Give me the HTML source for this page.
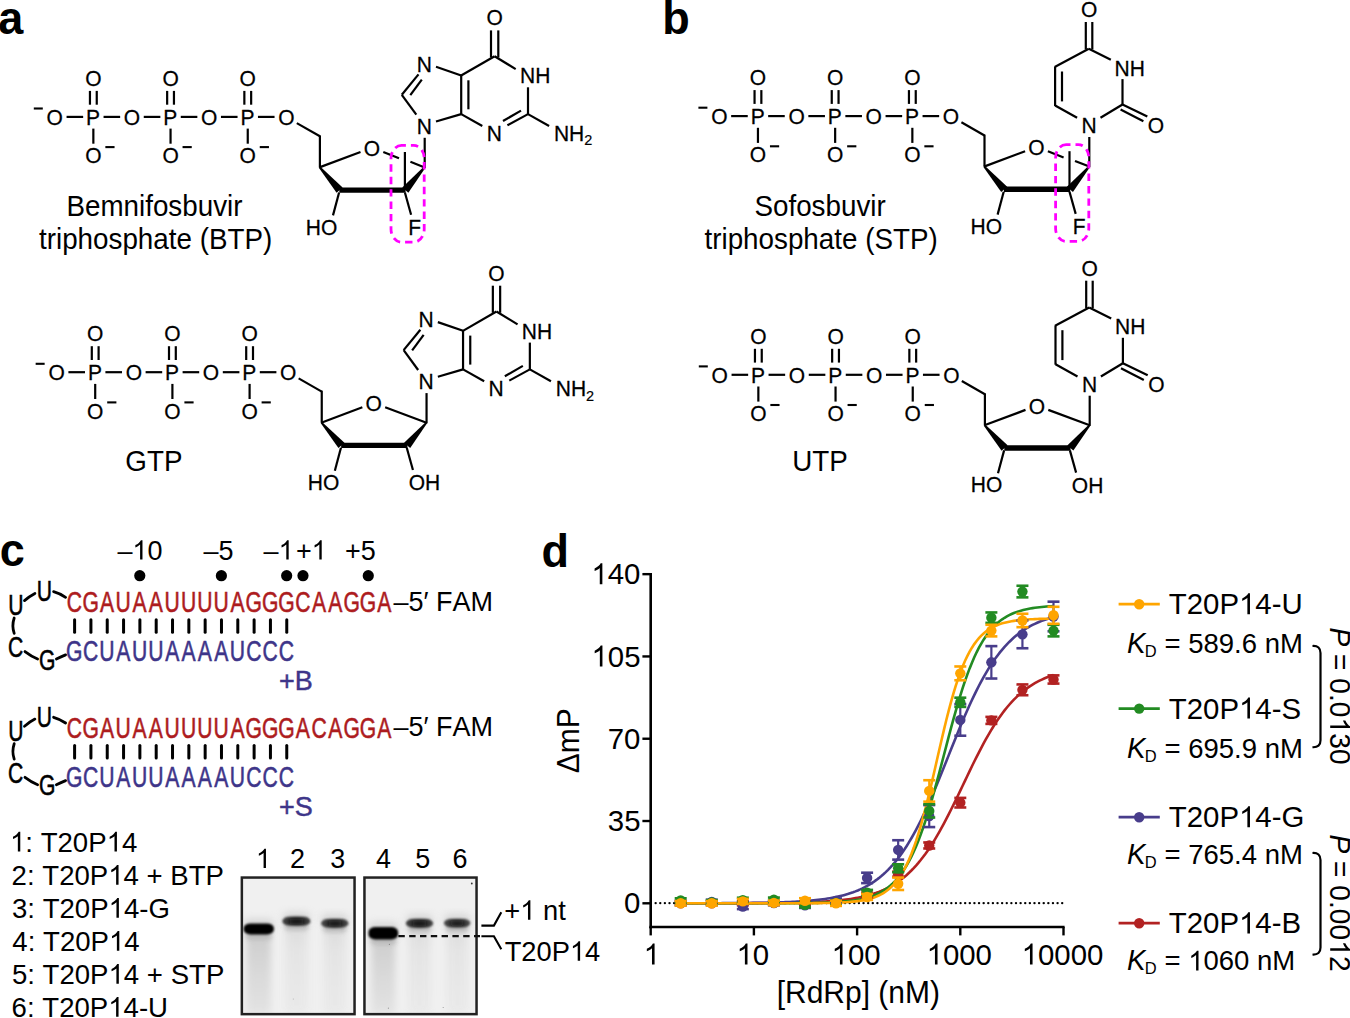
<!DOCTYPE html>
<html><head><meta charset="utf-8"><style>
html,body{margin:0;padding:0;background:#fff;width:1350px;height:1018px;overflow:hidden}
svg{display:block}
text{font-family:"Liberation Sans", sans-serif;font-kerning:none;white-space:pre}
</style></head><body>
<svg width="1350" height="1018" viewBox="0 0 1350 1018">
<rect width="1350" height="1018" fill="#fff"/>
<text transform="translate(-1.8,33.5) scale(1,1.04)" font-size="45" font-weight="bold">a</text>
<text transform="translate(662.2,33.5) scale(1,1.04)" font-size="45" font-weight="bold">b</text>
<text transform="translate(-0.3,566.3) scale(1,1.04)" font-size="45" font-weight="bold">c</text>
<text transform="translate(541.6,566.8) scale(1,1.04)" font-size="45" font-weight="bold">d</text>
<text transform="translate(46.59,124.63) scale(1,1.07)" font-size="21" stroke="#000" stroke-width="0.25">O</text>
<text transform="translate(86.04,124.63) scale(1,1.07)" font-size="21" stroke="#000" stroke-width="0.25">P</text>
<text transform="translate(123.79,124.63) scale(1,1.07)" font-size="21" stroke="#000" stroke-width="0.25">O</text>
<text transform="translate(163.24,124.63) scale(1,1.07)" font-size="21" stroke="#000" stroke-width="0.25">P</text>
<text transform="translate(200.99,124.63) scale(1,1.07)" font-size="21" stroke="#000" stroke-width="0.25">O</text>
<text transform="translate(240.44,124.63) scale(1,1.07)" font-size="21" stroke="#000" stroke-width="0.25">P</text>
<text transform="translate(278.19,124.63) scale(1,1.07)" font-size="21" stroke="#000" stroke-width="0.25">O</text>
<text transform="translate(85.19,86.03) scale(1,1.07)" font-size="21" stroke="#000" stroke-width="0.25">O</text>
<text transform="translate(85.19,163.23) scale(1,1.07)" font-size="21" stroke="#000" stroke-width="0.25">O</text>
<line x1="89.95" y1="90.9" x2="89.95" y2="104.7" stroke="#000" stroke-width="2.2" stroke-linecap="butt"/>
<line x1="96.75" y1="90.9" x2="96.75" y2="104.7" stroke="#000" stroke-width="2.2" stroke-linecap="butt"/>
<line x1="93.35" y1="128.6" x2="93.35" y2="143.7" stroke="#000" stroke-width="2.2" stroke-linecap="butt"/>
<line x1="105.35" y1="147.1" x2="114.55" y2="147.1" stroke="#000" stroke-width="2.1" stroke-linecap="butt"/>
<text transform="translate(162.39,86.03) scale(1,1.07)" font-size="21" stroke="#000" stroke-width="0.25">O</text>
<text transform="translate(162.39,163.23) scale(1,1.07)" font-size="21" stroke="#000" stroke-width="0.25">O</text>
<line x1="167.15" y1="90.9" x2="167.15" y2="104.7" stroke="#000" stroke-width="2.2" stroke-linecap="butt"/>
<line x1="173.95" y1="90.9" x2="173.95" y2="104.7" stroke="#000" stroke-width="2.2" stroke-linecap="butt"/>
<line x1="170.55" y1="128.6" x2="170.55" y2="143.7" stroke="#000" stroke-width="2.2" stroke-linecap="butt"/>
<line x1="182.55" y1="147.1" x2="191.75" y2="147.1" stroke="#000" stroke-width="2.1" stroke-linecap="butt"/>
<text transform="translate(239.59,86.03) scale(1,1.07)" font-size="21" stroke="#000" stroke-width="0.25">O</text>
<text transform="translate(239.59,163.23) scale(1,1.07)" font-size="21" stroke="#000" stroke-width="0.25">O</text>
<line x1="244.35" y1="90.9" x2="244.35" y2="104.7" stroke="#000" stroke-width="2.2" stroke-linecap="butt"/>
<line x1="251.15" y1="90.9" x2="251.15" y2="104.7" stroke="#000" stroke-width="2.2" stroke-linecap="butt"/>
<line x1="247.75" y1="128.6" x2="247.75" y2="143.7" stroke="#000" stroke-width="2.2" stroke-linecap="butt"/>
<line x1="259.75" y1="147.1" x2="268.95" y2="147.1" stroke="#000" stroke-width="2.1" stroke-linecap="butt"/>
<line x1="66.55" y1="116.9" x2="83.15" y2="116.9" stroke="#000" stroke-width="2.2" stroke-linecap="butt"/>
<line x1="103.55" y1="116.9" x2="120.15" y2="116.9" stroke="#000" stroke-width="2.2" stroke-linecap="butt"/>
<line x1="143.75" y1="116.9" x2="160.35" y2="116.9" stroke="#000" stroke-width="2.2" stroke-linecap="butt"/>
<line x1="180.75" y1="116.9" x2="197.35" y2="116.9" stroke="#000" stroke-width="2.2" stroke-linecap="butt"/>
<line x1="220.95" y1="116.9" x2="237.55" y2="116.9" stroke="#000" stroke-width="2.2" stroke-linecap="butt"/>
<line x1="257.95" y1="116.9" x2="274.55" y2="116.9" stroke="#000" stroke-width="2.2" stroke-linecap="butt"/>
<line x1="33.8" y1="108.5" x2="42.8" y2="108.5" stroke="#000" stroke-width="2.1" stroke-linecap="butt"/>
<text transform="translate(363.74,156.13) scale(1,1.07)" font-size="21" stroke="#000" stroke-width="0.25">O</text>
<line x1="296.8" y1="123.1" x2="319.9" y2="136.3" stroke="#000" stroke-width="2.2" stroke-linecap="butt"/>
<line x1="319.9" y1="135.4" x2="319.9" y2="167.4" stroke="#000" stroke-width="2.2" stroke-linecap="butt"/>
<line x1="319.4" y1="167.4" x2="360.5" y2="152" stroke="#000" stroke-width="2.2" stroke-linecap="butt"/>
<line x1="383.3" y1="152" x2="399" y2="158.2" stroke="#000" stroke-width="2.2" stroke-linecap="butt"/>
<line x1="410.4" y1="161.7" x2="424.7" y2="167.4" stroke="#000" stroke-width="2.2" stroke-linecap="butt"/>
<line x1="424.7" y1="137.8" x2="424.7" y2="168" stroke="#000" stroke-width="2.2" stroke-linecap="butt"/>
<polygon points="318.82,167.79 336.59,192.74 342.61,187.46 320.18,166.61" fill="#000"/>
<polygon points="424.01,166.62 402.25,187.51 408.35,192.69 425.39,167.78" fill="#000"/>
<polygon points="339.3,187.4 405.6,187.4 405.6,192.8 339.3,192.8" fill="#000"/>
<line x1="339.1" y1="192.5" x2="333" y2="215.4" stroke="#000" stroke-width="2.2" stroke-linecap="butt"/>
<text transform="translate(305.87,234.53) scale(1,1.07)" font-size="21" stroke="#000" stroke-width="0.25">HO</text>
<line x1="404.9" y1="192.5" x2="411.1" y2="214.7" stroke="#000" stroke-width="2.2" stroke-linecap="butt"/>
<text transform="translate(408.15,234.73) scale(1,1.07)" font-size="21" stroke="#000" stroke-width="0.25">F</text>
<line x1="404.9" y1="152" x2="404.9" y2="190" stroke="#000" stroke-width="2.2" stroke-linecap="butt"/>
<text transform="translate(486.44,25.33) scale(1,1.07)" font-size="21" stroke="#000" stroke-width="0.25">O</text>
<text transform="translate(520.01,83.23) scale(1,1.07)" font-size="21" stroke="#000" stroke-width="0.25">NH</text>
<text transform="translate(486.71,141.03) scale(1,1.07)" font-size="21" stroke="#000" stroke-width="0.25">N</text>
<text transform="translate(553.91,141.03) scale(1,1.07)" font-size="21" stroke="#000" stroke-width="0.25">NH</text>
<text transform="translate(584.24,145.23) scale(1,1.07)" font-size="14.5" stroke="#000" stroke-width="0.2">2</text>
<text transform="translate(416.71,71.53) scale(1,1.07)" font-size="21" stroke="#000" stroke-width="0.25">N</text>
<text transform="translate(416.71,133.73) scale(1,1.07)" font-size="21" stroke="#000" stroke-width="0.25">N</text>
<line x1="491" y1="30.4" x2="491" y2="57.5" stroke="#000" stroke-width="2.2" stroke-linecap="butt"/>
<line x1="498.3" y1="30.4" x2="498.3" y2="57.5" stroke="#000" stroke-width="2.2" stroke-linecap="butt"/>
<line x1="494.6" y1="56.2" x2="515.7" y2="69.1" stroke="#000" stroke-width="2.2" stroke-linecap="butt"/>
<line x1="528" y1="87.3" x2="528" y2="114.1" stroke="#000" stroke-width="2.2" stroke-linecap="butt"/>
<line x1="528" y1="114.1" x2="507.4" y2="125.3" stroke="#000" stroke-width="2.2" stroke-linecap="butt"/>
<line x1="521" y1="110.6" x2="503" y2="121" stroke="#000" stroke-width="2.2" stroke-linecap="butt"/>
<line x1="482.3" y1="126" x2="461.2" y2="114.1" stroke="#000" stroke-width="2.2" stroke-linecap="butt"/>
<line x1="461.2" y1="114.1" x2="461.2" y2="75.5" stroke="#000" stroke-width="2.2" stroke-linecap="butt"/>
<line x1="468.4" y1="80.3" x2="468.4" y2="109.3" stroke="#000" stroke-width="2.2" stroke-linecap="butt"/>
<line x1="460.7" y1="75.8" x2="494.6" y2="56.2" stroke="#000" stroke-width="2.2" stroke-linecap="butt"/>
<line x1="461.2" y1="75.5" x2="436" y2="66.8" stroke="#000" stroke-width="2.2" stroke-linecap="butt"/>
<line x1="418.5" y1="74.4" x2="401.8" y2="94.8" stroke="#000" stroke-width="2.2" stroke-linecap="butt"/>
<line x1="421.8" y1="79.6" x2="410.3" y2="95.1" stroke="#000" stroke-width="2.2" stroke-linecap="butt"/>
<line x1="401.8" y1="94.8" x2="416.3" y2="114.7" stroke="#000" stroke-width="2.2" stroke-linecap="butt"/>
<line x1="436" y1="121.5" x2="461.2" y2="114.1" stroke="#000" stroke-width="2.2" stroke-linecap="butt"/>
<line x1="528" y1="114.1" x2="549.1" y2="126" stroke="#000" stroke-width="2.2" stroke-linecap="butt"/>
<rect x="391" y="145.4" width="33.2" height="96.8" rx="10.5" ry="13" fill="none" stroke="#ff00ff" stroke-width="2.8" stroke-dasharray="7.4 5" stroke-dashoffset="3"/>
<text transform="translate(48.44,379.93) scale(1,1.07)" font-size="21" stroke="#000" stroke-width="0.25">O</text>
<text transform="translate(87.89,379.93) scale(1,1.07)" font-size="21" stroke="#000" stroke-width="0.25">P</text>
<text transform="translate(125.64,379.93) scale(1,1.07)" font-size="21" stroke="#000" stroke-width="0.25">O</text>
<text transform="translate(165.09,379.93) scale(1,1.07)" font-size="21" stroke="#000" stroke-width="0.25">P</text>
<text transform="translate(202.84,379.93) scale(1,1.07)" font-size="21" stroke="#000" stroke-width="0.25">O</text>
<text transform="translate(242.29,379.93) scale(1,1.07)" font-size="21" stroke="#000" stroke-width="0.25">P</text>
<text transform="translate(280.04,379.93) scale(1,1.07)" font-size="21" stroke="#000" stroke-width="0.25">O</text>
<text transform="translate(87.04,341.33) scale(1,1.07)" font-size="21" stroke="#000" stroke-width="0.25">O</text>
<text transform="translate(87.04,418.53) scale(1,1.07)" font-size="21" stroke="#000" stroke-width="0.25">O</text>
<line x1="91.8" y1="346.2" x2="91.8" y2="360" stroke="#000" stroke-width="2.2" stroke-linecap="butt"/>
<line x1="98.6" y1="346.2" x2="98.6" y2="360" stroke="#000" stroke-width="2.2" stroke-linecap="butt"/>
<line x1="95.2" y1="383.9" x2="95.2" y2="399" stroke="#000" stroke-width="2.2" stroke-linecap="butt"/>
<line x1="107.2" y1="402.4" x2="116.4" y2="402.4" stroke="#000" stroke-width="2.1" stroke-linecap="butt"/>
<text transform="translate(164.24,341.33) scale(1,1.07)" font-size="21" stroke="#000" stroke-width="0.25">O</text>
<text transform="translate(164.24,418.53) scale(1,1.07)" font-size="21" stroke="#000" stroke-width="0.25">O</text>
<line x1="169" y1="346.2" x2="169" y2="360" stroke="#000" stroke-width="2.2" stroke-linecap="butt"/>
<line x1="175.8" y1="346.2" x2="175.8" y2="360" stroke="#000" stroke-width="2.2" stroke-linecap="butt"/>
<line x1="172.4" y1="383.9" x2="172.4" y2="399" stroke="#000" stroke-width="2.2" stroke-linecap="butt"/>
<line x1="184.4" y1="402.4" x2="193.6" y2="402.4" stroke="#000" stroke-width="2.1" stroke-linecap="butt"/>
<text transform="translate(241.44,341.33) scale(1,1.07)" font-size="21" stroke="#000" stroke-width="0.25">O</text>
<text transform="translate(241.44,418.53) scale(1,1.07)" font-size="21" stroke="#000" stroke-width="0.25">O</text>
<line x1="246.2" y1="346.2" x2="246.2" y2="360" stroke="#000" stroke-width="2.2" stroke-linecap="butt"/>
<line x1="253" y1="346.2" x2="253" y2="360" stroke="#000" stroke-width="2.2" stroke-linecap="butt"/>
<line x1="249.6" y1="383.9" x2="249.6" y2="399" stroke="#000" stroke-width="2.2" stroke-linecap="butt"/>
<line x1="261.6" y1="402.4" x2="270.8" y2="402.4" stroke="#000" stroke-width="2.1" stroke-linecap="butt"/>
<line x1="68.4" y1="372.2" x2="85" y2="372.2" stroke="#000" stroke-width="2.2" stroke-linecap="butt"/>
<line x1="105.4" y1="372.2" x2="122" y2="372.2" stroke="#000" stroke-width="2.2" stroke-linecap="butt"/>
<line x1="145.6" y1="372.2" x2="162.2" y2="372.2" stroke="#000" stroke-width="2.2" stroke-linecap="butt"/>
<line x1="182.6" y1="372.2" x2="199.2" y2="372.2" stroke="#000" stroke-width="2.2" stroke-linecap="butt"/>
<line x1="222.8" y1="372.2" x2="239.4" y2="372.2" stroke="#000" stroke-width="2.2" stroke-linecap="butt"/>
<line x1="259.8" y1="372.2" x2="276.4" y2="372.2" stroke="#000" stroke-width="2.2" stroke-linecap="butt"/>
<line x1="35.65" y1="363.8" x2="44.65" y2="363.8" stroke="#000" stroke-width="2.1" stroke-linecap="butt"/>
<text transform="translate(365.59,411.43) scale(1,1.07)" font-size="21" stroke="#000" stroke-width="0.25">O</text>
<line x1="298.65" y1="378.4" x2="321.75" y2="391.6" stroke="#000" stroke-width="2.2" stroke-linecap="butt"/>
<line x1="321.75" y1="390.7" x2="321.75" y2="422.7" stroke="#000" stroke-width="2.2" stroke-linecap="butt"/>
<line x1="321.25" y1="422.7" x2="362.35" y2="407.3" stroke="#000" stroke-width="2.2" stroke-linecap="butt"/>
<line x1="385.15" y1="407.3" x2="426.55" y2="422.7" stroke="#000" stroke-width="2.2" stroke-linecap="butt"/>
<line x1="426.55" y1="393.1" x2="426.55" y2="423.3" stroke="#000" stroke-width="2.2" stroke-linecap="butt"/>
<polygon points="320.67,423.09 338.44,448.04 344.46,442.76 322.03,421.91" fill="#000"/>
<polygon points="425.86,421.92 404.1,442.81 410.2,447.99 427.24,423.08" fill="#000"/>
<polygon points="341.15,442.7 407.45,442.7 407.45,448.1 341.15,448.1" fill="#000"/>
<line x1="340.95" y1="447.8" x2="334.85" y2="470.7" stroke="#000" stroke-width="2.2" stroke-linecap="butt"/>
<text transform="translate(307.72,489.83) scale(1,1.07)" font-size="21" stroke="#000" stroke-width="0.25">HO</text>
<line x1="406.75" y1="447.8" x2="412.95" y2="470" stroke="#000" stroke-width="2.2" stroke-linecap="butt"/>
<text transform="translate(408.69,490.03) scale(1,1.07)" font-size="21" stroke="#000" stroke-width="0.25">OH</text>
<text transform="translate(488.29,280.63) scale(1,1.07)" font-size="21" stroke="#000" stroke-width="0.25">O</text>
<text transform="translate(521.86,338.53) scale(1,1.07)" font-size="21" stroke="#000" stroke-width="0.25">NH</text>
<text transform="translate(488.56,396.33) scale(1,1.07)" font-size="21" stroke="#000" stroke-width="0.25">N</text>
<text transform="translate(555.76,396.33) scale(1,1.07)" font-size="21" stroke="#000" stroke-width="0.25">NH</text>
<text transform="translate(586.09,400.53) scale(1,1.07)" font-size="14.5" stroke="#000" stroke-width="0.2">2</text>
<text transform="translate(418.56,326.83) scale(1,1.07)" font-size="21" stroke="#000" stroke-width="0.25">N</text>
<text transform="translate(418.56,389.03) scale(1,1.07)" font-size="21" stroke="#000" stroke-width="0.25">N</text>
<line x1="492.85" y1="285.7" x2="492.85" y2="312.8" stroke="#000" stroke-width="2.2" stroke-linecap="butt"/>
<line x1="500.15" y1="285.7" x2="500.15" y2="312.8" stroke="#000" stroke-width="2.2" stroke-linecap="butt"/>
<line x1="496.45" y1="311.5" x2="517.55" y2="324.4" stroke="#000" stroke-width="2.2" stroke-linecap="butt"/>
<line x1="529.85" y1="342.6" x2="529.85" y2="369.4" stroke="#000" stroke-width="2.2" stroke-linecap="butt"/>
<line x1="529.85" y1="369.4" x2="509.25" y2="380.6" stroke="#000" stroke-width="2.2" stroke-linecap="butt"/>
<line x1="522.85" y1="365.9" x2="504.85" y2="376.3" stroke="#000" stroke-width="2.2" stroke-linecap="butt"/>
<line x1="484.15" y1="381.3" x2="463.05" y2="369.4" stroke="#000" stroke-width="2.2" stroke-linecap="butt"/>
<line x1="463.05" y1="369.4" x2="463.05" y2="330.8" stroke="#000" stroke-width="2.2" stroke-linecap="butt"/>
<line x1="470.25" y1="335.6" x2="470.25" y2="364.6" stroke="#000" stroke-width="2.2" stroke-linecap="butt"/>
<line x1="462.55" y1="331.1" x2="496.45" y2="311.5" stroke="#000" stroke-width="2.2" stroke-linecap="butt"/>
<line x1="463.05" y1="330.8" x2="437.85" y2="322.1" stroke="#000" stroke-width="2.2" stroke-linecap="butt"/>
<line x1="420.35" y1="329.7" x2="403.65" y2="350.1" stroke="#000" stroke-width="2.2" stroke-linecap="butt"/>
<line x1="423.65" y1="334.9" x2="412.15" y2="350.4" stroke="#000" stroke-width="2.2" stroke-linecap="butt"/>
<line x1="403.65" y1="350.1" x2="418.15" y2="370" stroke="#000" stroke-width="2.2" stroke-linecap="butt"/>
<line x1="437.85" y1="376.8" x2="463.05" y2="369.4" stroke="#000" stroke-width="2.2" stroke-linecap="butt"/>
<line x1="529.85" y1="369.4" x2="550.95" y2="381.3" stroke="#000" stroke-width="2.2" stroke-linecap="butt"/>
<text transform="translate(711.19,123.83) scale(1,1.07)" font-size="21" stroke="#000" stroke-width="0.25">O</text>
<text transform="translate(750.64,123.83) scale(1,1.07)" font-size="21" stroke="#000" stroke-width="0.25">P</text>
<text transform="translate(788.39,123.83) scale(1,1.07)" font-size="21" stroke="#000" stroke-width="0.25">O</text>
<text transform="translate(827.84,123.83) scale(1,1.07)" font-size="21" stroke="#000" stroke-width="0.25">P</text>
<text transform="translate(865.59,123.83) scale(1,1.07)" font-size="21" stroke="#000" stroke-width="0.25">O</text>
<text transform="translate(905.04,123.83) scale(1,1.07)" font-size="21" stroke="#000" stroke-width="0.25">P</text>
<text transform="translate(942.79,123.83) scale(1,1.07)" font-size="21" stroke="#000" stroke-width="0.25">O</text>
<text transform="translate(749.79,85.23) scale(1,1.07)" font-size="21" stroke="#000" stroke-width="0.25">O</text>
<text transform="translate(749.79,162.43) scale(1,1.07)" font-size="21" stroke="#000" stroke-width="0.25">O</text>
<line x1="754.55" y1="90.1" x2="754.55" y2="103.9" stroke="#000" stroke-width="2.2" stroke-linecap="butt"/>
<line x1="761.35" y1="90.1" x2="761.35" y2="103.9" stroke="#000" stroke-width="2.2" stroke-linecap="butt"/>
<line x1="757.95" y1="127.8" x2="757.95" y2="142.9" stroke="#000" stroke-width="2.2" stroke-linecap="butt"/>
<line x1="769.95" y1="146.3" x2="779.15" y2="146.3" stroke="#000" stroke-width="2.1" stroke-linecap="butt"/>
<text transform="translate(826.99,85.23) scale(1,1.07)" font-size="21" stroke="#000" stroke-width="0.25">O</text>
<text transform="translate(826.99,162.43) scale(1,1.07)" font-size="21" stroke="#000" stroke-width="0.25">O</text>
<line x1="831.75" y1="90.1" x2="831.75" y2="103.9" stroke="#000" stroke-width="2.2" stroke-linecap="butt"/>
<line x1="838.55" y1="90.1" x2="838.55" y2="103.9" stroke="#000" stroke-width="2.2" stroke-linecap="butt"/>
<line x1="835.15" y1="127.8" x2="835.15" y2="142.9" stroke="#000" stroke-width="2.2" stroke-linecap="butt"/>
<line x1="847.15" y1="146.3" x2="856.35" y2="146.3" stroke="#000" stroke-width="2.1" stroke-linecap="butt"/>
<text transform="translate(904.19,85.23) scale(1,1.07)" font-size="21" stroke="#000" stroke-width="0.25">O</text>
<text transform="translate(904.19,162.43) scale(1,1.07)" font-size="21" stroke="#000" stroke-width="0.25">O</text>
<line x1="908.95" y1="90.1" x2="908.95" y2="103.9" stroke="#000" stroke-width="2.2" stroke-linecap="butt"/>
<line x1="915.75" y1="90.1" x2="915.75" y2="103.9" stroke="#000" stroke-width="2.2" stroke-linecap="butt"/>
<line x1="912.35" y1="127.8" x2="912.35" y2="142.9" stroke="#000" stroke-width="2.2" stroke-linecap="butt"/>
<line x1="924.35" y1="146.3" x2="933.55" y2="146.3" stroke="#000" stroke-width="2.1" stroke-linecap="butt"/>
<line x1="731.15" y1="116.1" x2="747.75" y2="116.1" stroke="#000" stroke-width="2.2" stroke-linecap="butt"/>
<line x1="768.15" y1="116.1" x2="784.75" y2="116.1" stroke="#000" stroke-width="2.2" stroke-linecap="butt"/>
<line x1="808.35" y1="116.1" x2="824.95" y2="116.1" stroke="#000" stroke-width="2.2" stroke-linecap="butt"/>
<line x1="845.35" y1="116.1" x2="861.95" y2="116.1" stroke="#000" stroke-width="2.2" stroke-linecap="butt"/>
<line x1="885.55" y1="116.1" x2="902.15" y2="116.1" stroke="#000" stroke-width="2.2" stroke-linecap="butt"/>
<line x1="922.55" y1="116.1" x2="939.15" y2="116.1" stroke="#000" stroke-width="2.2" stroke-linecap="butt"/>
<line x1="698.4" y1="107.7" x2="707.4" y2="107.7" stroke="#000" stroke-width="2.1" stroke-linecap="butt"/>
<text transform="translate(1028.34,155.33) scale(1,1.07)" font-size="21" stroke="#000" stroke-width="0.25">O</text>
<line x1="961.4" y1="122.3" x2="984.5" y2="135.5" stroke="#000" stroke-width="2.2" stroke-linecap="butt"/>
<line x1="984.5" y1="134.6" x2="984.5" y2="166.6" stroke="#000" stroke-width="2.2" stroke-linecap="butt"/>
<line x1="984" y1="166.6" x2="1025.1" y2="151.2" stroke="#000" stroke-width="2.2" stroke-linecap="butt"/>
<line x1="1047.9" y1="151.2" x2="1063.6" y2="157.4" stroke="#000" stroke-width="2.2" stroke-linecap="butt"/>
<line x1="1075" y1="160.9" x2="1089.3" y2="166.6" stroke="#000" stroke-width="2.2" stroke-linecap="butt"/>
<line x1="1089.3" y1="137" x2="1089.3" y2="167.2" stroke="#000" stroke-width="2.2" stroke-linecap="butt"/>
<polygon points="983.42,166.99 1001.19,191.94 1007.21,186.66 984.78,165.81" fill="#000"/>
<polygon points="1088.61,165.82 1066.85,186.71 1072.95,191.89 1089.99,166.98" fill="#000"/>
<polygon points="1003.9,186.6 1070.2,186.6 1070.2,192 1003.9,192" fill="#000"/>
<line x1="1003.7" y1="191.7" x2="997.6" y2="214.6" stroke="#000" stroke-width="2.2" stroke-linecap="butt"/>
<text transform="translate(970.47,233.73) scale(1,1.07)" font-size="21" stroke="#000" stroke-width="0.25">HO</text>
<line x1="1069.5" y1="191.7" x2="1075.7" y2="213.9" stroke="#000" stroke-width="2.2" stroke-linecap="butt"/>
<text transform="translate(1072.75,233.93) scale(1,1.07)" font-size="21" stroke="#000" stroke-width="0.25">F</text>
<line x1="1069.5" y1="151.2" x2="1069.5" y2="189.2" stroke="#000" stroke-width="2.2" stroke-linecap="butt"/>
<text transform="translate(1081.04,17.03) scale(1,1.07)" font-size="21" stroke="#000" stroke-width="0.25">O</text>
<text transform="translate(1114.61,75.53) scale(1,1.07)" font-size="21" stroke="#000" stroke-width="0.25">NH</text>
<text transform="translate(1147.74,133.23) scale(1,1.07)" font-size="21" stroke="#000" stroke-width="0.25">O</text>
<text transform="translate(1081.61,132.93) scale(1,1.07)" font-size="21" stroke="#000" stroke-width="0.25">N</text>
<line x1="1085.8" y1="22" x2="1085.8" y2="49.5" stroke="#000" stroke-width="2.2" stroke-linecap="butt"/>
<line x1="1092.3" y1="22" x2="1092.3" y2="49.5" stroke="#000" stroke-width="2.2" stroke-linecap="butt"/>
<line x1="1088.8" y1="48.8" x2="1110.8" y2="59.8" stroke="#000" stroke-width="2.2" stroke-linecap="butt"/>
<line x1="1122.5" y1="79.1" x2="1122.5" y2="104.9" stroke="#000" stroke-width="2.2" stroke-linecap="butt"/>
<line x1="1122.5" y1="104.5" x2="1147.3" y2="116.6" stroke="#000" stroke-width="2.2" stroke-linecap="butt"/>
<line x1="1120.6" y1="109.6" x2="1143.4" y2="121.3" stroke="#000" stroke-width="2.2" stroke-linecap="butt"/>
<line x1="1122.5" y1="104.5" x2="1100.5" y2="117.8" stroke="#000" stroke-width="2.2" stroke-linecap="butt"/>
<line x1="1077.1" y1="117.8" x2="1055.1" y2="105.5" stroke="#000" stroke-width="2.2" stroke-linecap="butt"/>
<line x1="1055.1" y1="106" x2="1055.1" y2="66.7" stroke="#000" stroke-width="2.2" stroke-linecap="butt"/>
<line x1="1062" y1="71.5" x2="1062" y2="101.4" stroke="#000" stroke-width="2.2" stroke-linecap="butt"/>
<line x1="1054.7" y1="67" x2="1088.8" y2="48.8" stroke="#000" stroke-width="2.2" stroke-linecap="butt"/>
<rect x="1055.6" y="144.6" width="33.2" height="96.8" rx="10.5" ry="13" fill="none" stroke="#ff00ff" stroke-width="2.8" stroke-dasharray="7.4 5" stroke-dashoffset="3"/>
<text transform="translate(711.59,382.53) scale(1,1.07)" font-size="21" stroke="#000" stroke-width="0.25">O</text>
<text transform="translate(751.04,382.53) scale(1,1.07)" font-size="21" stroke="#000" stroke-width="0.25">P</text>
<text transform="translate(788.79,382.53) scale(1,1.07)" font-size="21" stroke="#000" stroke-width="0.25">O</text>
<text transform="translate(828.24,382.53) scale(1,1.07)" font-size="21" stroke="#000" stroke-width="0.25">P</text>
<text transform="translate(865.99,382.53) scale(1,1.07)" font-size="21" stroke="#000" stroke-width="0.25">O</text>
<text transform="translate(905.44,382.53) scale(1,1.07)" font-size="21" stroke="#000" stroke-width="0.25">P</text>
<text transform="translate(943.19,382.53) scale(1,1.07)" font-size="21" stroke="#000" stroke-width="0.25">O</text>
<text transform="translate(750.19,343.93) scale(1,1.07)" font-size="21" stroke="#000" stroke-width="0.25">O</text>
<text transform="translate(750.19,421.13) scale(1,1.07)" font-size="21" stroke="#000" stroke-width="0.25">O</text>
<line x1="754.95" y1="348.8" x2="754.95" y2="362.6" stroke="#000" stroke-width="2.2" stroke-linecap="butt"/>
<line x1="761.75" y1="348.8" x2="761.75" y2="362.6" stroke="#000" stroke-width="2.2" stroke-linecap="butt"/>
<line x1="758.35" y1="386.5" x2="758.35" y2="401.6" stroke="#000" stroke-width="2.2" stroke-linecap="butt"/>
<line x1="770.35" y1="405" x2="779.55" y2="405" stroke="#000" stroke-width="2.1" stroke-linecap="butt"/>
<text transform="translate(827.39,343.93) scale(1,1.07)" font-size="21" stroke="#000" stroke-width="0.25">O</text>
<text transform="translate(827.39,421.13) scale(1,1.07)" font-size="21" stroke="#000" stroke-width="0.25">O</text>
<line x1="832.15" y1="348.8" x2="832.15" y2="362.6" stroke="#000" stroke-width="2.2" stroke-linecap="butt"/>
<line x1="838.95" y1="348.8" x2="838.95" y2="362.6" stroke="#000" stroke-width="2.2" stroke-linecap="butt"/>
<line x1="835.55" y1="386.5" x2="835.55" y2="401.6" stroke="#000" stroke-width="2.2" stroke-linecap="butt"/>
<line x1="847.55" y1="405" x2="856.75" y2="405" stroke="#000" stroke-width="2.1" stroke-linecap="butt"/>
<text transform="translate(904.59,343.93) scale(1,1.07)" font-size="21" stroke="#000" stroke-width="0.25">O</text>
<text transform="translate(904.59,421.13) scale(1,1.07)" font-size="21" stroke="#000" stroke-width="0.25">O</text>
<line x1="909.35" y1="348.8" x2="909.35" y2="362.6" stroke="#000" stroke-width="2.2" stroke-linecap="butt"/>
<line x1="916.15" y1="348.8" x2="916.15" y2="362.6" stroke="#000" stroke-width="2.2" stroke-linecap="butt"/>
<line x1="912.75" y1="386.5" x2="912.75" y2="401.6" stroke="#000" stroke-width="2.2" stroke-linecap="butt"/>
<line x1="924.75" y1="405" x2="933.95" y2="405" stroke="#000" stroke-width="2.1" stroke-linecap="butt"/>
<line x1="731.55" y1="374.8" x2="748.15" y2="374.8" stroke="#000" stroke-width="2.2" stroke-linecap="butt"/>
<line x1="768.55" y1="374.8" x2="785.15" y2="374.8" stroke="#000" stroke-width="2.2" stroke-linecap="butt"/>
<line x1="808.75" y1="374.8" x2="825.35" y2="374.8" stroke="#000" stroke-width="2.2" stroke-linecap="butt"/>
<line x1="845.75" y1="374.8" x2="862.35" y2="374.8" stroke="#000" stroke-width="2.2" stroke-linecap="butt"/>
<line x1="885.95" y1="374.8" x2="902.55" y2="374.8" stroke="#000" stroke-width="2.2" stroke-linecap="butt"/>
<line x1="922.95" y1="374.8" x2="939.55" y2="374.8" stroke="#000" stroke-width="2.2" stroke-linecap="butt"/>
<line x1="698.8" y1="366.4" x2="707.8" y2="366.4" stroke="#000" stroke-width="2.1" stroke-linecap="butt"/>
<text transform="translate(1028.74,414.03) scale(1,1.07)" font-size="21" stroke="#000" stroke-width="0.25">O</text>
<line x1="961.8" y1="381" x2="984.9" y2="394.2" stroke="#000" stroke-width="2.2" stroke-linecap="butt"/>
<line x1="984.9" y1="393.3" x2="984.9" y2="425.3" stroke="#000" stroke-width="2.2" stroke-linecap="butt"/>
<line x1="984.4" y1="425.3" x2="1025.5" y2="409.9" stroke="#000" stroke-width="2.2" stroke-linecap="butt"/>
<line x1="1048.3" y1="409.9" x2="1089.7" y2="425.3" stroke="#000" stroke-width="2.2" stroke-linecap="butt"/>
<line x1="1089.7" y1="395.7" x2="1089.7" y2="425.9" stroke="#000" stroke-width="2.2" stroke-linecap="butt"/>
<polygon points="983.82,425.69 1001.59,450.64 1007.61,445.36 985.18,424.51" fill="#000"/>
<polygon points="1089.01,424.52 1067.25,445.41 1073.35,450.59 1090.39,425.68" fill="#000"/>
<polygon points="1004.3,445.3 1070.6,445.3 1070.6,450.7 1004.3,450.7" fill="#000"/>
<line x1="1004.1" y1="450.4" x2="998" y2="473.3" stroke="#000" stroke-width="2.2" stroke-linecap="butt"/>
<text transform="translate(970.87,492.43) scale(1,1.07)" font-size="21" stroke="#000" stroke-width="0.25">HO</text>
<line x1="1069.9" y1="450.4" x2="1076.1" y2="472.6" stroke="#000" stroke-width="2.2" stroke-linecap="butt"/>
<text transform="translate(1071.84,492.63) scale(1,1.07)" font-size="21" stroke="#000" stroke-width="0.25">OH</text>
<text transform="translate(1081.44,275.73) scale(1,1.07)" font-size="21" stroke="#000" stroke-width="0.25">O</text>
<text transform="translate(1115.01,334.23) scale(1,1.07)" font-size="21" stroke="#000" stroke-width="0.25">NH</text>
<text transform="translate(1148.14,391.93) scale(1,1.07)" font-size="21" stroke="#000" stroke-width="0.25">O</text>
<text transform="translate(1082.01,391.63) scale(1,1.07)" font-size="21" stroke="#000" stroke-width="0.25">N</text>
<line x1="1086.2" y1="280.7" x2="1086.2" y2="308.2" stroke="#000" stroke-width="2.2" stroke-linecap="butt"/>
<line x1="1092.7" y1="280.7" x2="1092.7" y2="308.2" stroke="#000" stroke-width="2.2" stroke-linecap="butt"/>
<line x1="1089.2" y1="307.5" x2="1111.2" y2="318.5" stroke="#000" stroke-width="2.2" stroke-linecap="butt"/>
<line x1="1122.9" y1="337.8" x2="1122.9" y2="363.6" stroke="#000" stroke-width="2.2" stroke-linecap="butt"/>
<line x1="1122.9" y1="363.2" x2="1147.7" y2="375.3" stroke="#000" stroke-width="2.2" stroke-linecap="butt"/>
<line x1="1121" y1="368.3" x2="1143.8" y2="380" stroke="#000" stroke-width="2.2" stroke-linecap="butt"/>
<line x1="1122.9" y1="363.2" x2="1100.9" y2="376.5" stroke="#000" stroke-width="2.2" stroke-linecap="butt"/>
<line x1="1077.5" y1="376.5" x2="1055.5" y2="364.2" stroke="#000" stroke-width="2.2" stroke-linecap="butt"/>
<line x1="1055.5" y1="364.7" x2="1055.5" y2="325.4" stroke="#000" stroke-width="2.2" stroke-linecap="butt"/>
<line x1="1062.4" y1="330.2" x2="1062.4" y2="360.1" stroke="#000" stroke-width="2.2" stroke-linecap="butt"/>
<line x1="1055.1" y1="325.7" x2="1089.2" y2="307.5" stroke="#000" stroke-width="2.2" stroke-linecap="butt"/>
<g transform="translate(66.42,215.6) scale(1,1.035)"><text x="0" y="0" font-size="27.8" fill="#000" font-weight="normal" font-style="normal">Bemnifosbuvir</text></g>
<g transform="translate(38.99,248.9) scale(1,1.035)"><text x="0" y="0" font-size="27.8" fill="#000" font-weight="normal" font-style="normal">triphosphate (BTP)</text></g>
<g transform="translate(125.36,470.6) scale(1,1.035)"><text x="0" y="0" font-size="27.8" fill="#000" font-weight="normal" font-style="normal">GTP</text></g>
<g transform="translate(754.43,215.6) scale(1,1.035)"><text x="0" y="0" font-size="27.8" fill="#000" font-weight="normal" font-style="normal">Sofosbuvir</text></g>
<g transform="translate(704.49,248.9) scale(1,1.035)"><text x="0" y="0" font-size="27.8" fill="#000" font-weight="normal" font-style="normal">triphosphate (STP)</text></g>
<g transform="translate(792.16,470.6) scale(1,1.035)"><text x="0" y="0" font-size="27.8" fill="#000" font-weight="normal" font-style="normal">UTP</text></g>
<g transform="translate(117.4,559.6) scale(1,1.035)"><text x="0" y="0" font-size="27" fill="#000" font-weight="normal" font-style="normal">– 0</text><path d="M763 0H583V1102C540 1063 483 1023 413 984C343 945 280 915 223 895V1062C323 1107 411 1162 486 1226C561 1291 614 1353 645 1415H763Z" fill="#000" transform="translate(15.02,0) scale(0.01318,-0.01318)"/></g>
<g transform="translate(203.4,559.6) scale(1,1.035)"><text x="0" y="0" font-size="27" fill="#000" font-weight="normal" font-style="normal">–5</text></g>
<g transform="translate(263.6,559.6) scale(1,1.035)"><text x="0" y="0" font-size="27" fill="#000" font-weight="normal" font-style="normal">– </text><path d="M763 0H583V1102C540 1063 483 1023 413 984C343 945 280 915 223 895V1062C323 1107 411 1162 486 1226C561 1291 614 1353 645 1415H763Z" fill="#000" transform="translate(15.02,0) scale(0.01318,-0.01318)"/></g>
<g transform="translate(295.88,559.6) scale(1,1.035)"><text x="0" y="0" font-size="27" fill="#000" font-weight="normal" font-style="normal">+ </text><path d="M763 0H583V1102C540 1063 483 1023 413 984C343 945 280 915 223 895V1062C323 1107 411 1162 486 1226C561 1291 614 1353 645 1415H763Z" fill="#000" transform="translate(15.77,0) scale(0.01318,-0.01318)"/></g>
<g transform="translate(345.08,559.6) scale(1,1.035)"><text x="0" y="0" font-size="27" fill="#000" font-weight="normal" font-style="normal">+5</text></g>
<circle cx="139.78" cy="575.7" r="5.6" fill="#000"/>
<circle cx="221.38" cy="575.7" r="5.6" fill="#000"/>
<circle cx="286.66" cy="575.7" r="5.6" fill="#000"/>
<circle cx="302.98" cy="575.7" r="5.6" fill="#000"/>
<circle cx="368.26" cy="575.7" r="5.6" fill="#000"/>
<text x="99.07" y="571.96" font-size="28.2" fill="#ad1c1e" stroke="#ad1c1e" stroke-width="0.55" text-anchor="middle" transform="scale(0.75,1.07)">C</text>
<text x="120.83" y="571.96" font-size="28.2" fill="#ad1c1e" stroke="#ad1c1e" stroke-width="0.55" text-anchor="middle" transform="scale(0.75,1.07)">G</text>
<text x="142.59" y="571.96" font-size="28.2" fill="#ad1c1e" stroke="#ad1c1e" stroke-width="0.55" text-anchor="middle" transform="scale(0.75,1.07)">A</text>
<text x="164.35" y="571.96" font-size="28.2" fill="#ad1c1e" stroke="#ad1c1e" stroke-width="0.55" text-anchor="middle" transform="scale(0.75,1.07)">U</text>
<text x="186.11" y="571.96" font-size="28.2" fill="#ad1c1e" stroke="#ad1c1e" stroke-width="0.55" text-anchor="middle" transform="scale(0.75,1.07)">A</text>
<text x="207.87" y="571.96" font-size="28.2" fill="#ad1c1e" stroke="#ad1c1e" stroke-width="0.55" text-anchor="middle" transform="scale(0.75,1.07)">A</text>
<text x="229.63" y="571.96" font-size="28.2" fill="#ad1c1e" stroke="#ad1c1e" stroke-width="0.55" text-anchor="middle" transform="scale(0.75,1.07)">U</text>
<text x="251.39" y="571.96" font-size="28.2" fill="#ad1c1e" stroke="#ad1c1e" stroke-width="0.55" text-anchor="middle" transform="scale(0.75,1.07)">U</text>
<text x="273.15" y="571.96" font-size="28.2" fill="#ad1c1e" stroke="#ad1c1e" stroke-width="0.55" text-anchor="middle" transform="scale(0.75,1.07)">U</text>
<text x="294.91" y="571.96" font-size="28.2" fill="#ad1c1e" stroke="#ad1c1e" stroke-width="0.55" text-anchor="middle" transform="scale(0.75,1.07)">U</text>
<text x="316.67" y="571.96" font-size="28.2" fill="#ad1c1e" stroke="#ad1c1e" stroke-width="0.55" text-anchor="middle" transform="scale(0.75,1.07)">A</text>
<text x="338.43" y="571.96" font-size="28.2" fill="#ad1c1e" stroke="#ad1c1e" stroke-width="0.55" text-anchor="middle" transform="scale(0.75,1.07)">G</text>
<text x="360.19" y="571.96" font-size="28.2" fill="#ad1c1e" stroke="#ad1c1e" stroke-width="0.55" text-anchor="middle" transform="scale(0.75,1.07)">G</text>
<text x="381.95" y="571.96" font-size="28.2" fill="#ad1c1e" stroke="#ad1c1e" stroke-width="0.55" text-anchor="middle" transform="scale(0.75,1.07)">G</text>
<text x="403.71" y="571.96" font-size="28.2" fill="#ad1c1e" stroke="#ad1c1e" stroke-width="0.55" text-anchor="middle" transform="scale(0.75,1.07)">C</text>
<text x="425.47" y="571.96" font-size="28.2" fill="#ad1c1e" stroke="#ad1c1e" stroke-width="0.55" text-anchor="middle" transform="scale(0.75,1.07)">A</text>
<text x="447.23" y="571.96" font-size="28.2" fill="#ad1c1e" stroke="#ad1c1e" stroke-width="0.55" text-anchor="middle" transform="scale(0.75,1.07)">A</text>
<text x="468.99" y="571.96" font-size="28.2" fill="#ad1c1e" stroke="#ad1c1e" stroke-width="0.55" text-anchor="middle" transform="scale(0.75,1.07)">G</text>
<text x="490.75" y="571.96" font-size="28.2" fill="#ad1c1e" stroke="#ad1c1e" stroke-width="0.55" text-anchor="middle" transform="scale(0.75,1.07)">G</text>
<text x="512.51" y="571.96" font-size="28.2" fill="#ad1c1e" stroke="#ad1c1e" stroke-width="0.55" text-anchor="middle" transform="scale(0.75,1.07)">A</text>
<text x="99.07" y="618.22" font-size="28.2" fill="#3e3589" stroke="#3e3589" stroke-width="0.55" text-anchor="middle" transform="scale(0.75,1.07)">G</text>
<text x="120.83" y="618.22" font-size="28.2" fill="#3e3589" stroke="#3e3589" stroke-width="0.55" text-anchor="middle" transform="scale(0.75,1.07)">C</text>
<text x="142.59" y="618.22" font-size="28.2" fill="#3e3589" stroke="#3e3589" stroke-width="0.55" text-anchor="middle" transform="scale(0.75,1.07)">U</text>
<text x="164.35" y="618.22" font-size="28.2" fill="#3e3589" stroke="#3e3589" stroke-width="0.55" text-anchor="middle" transform="scale(0.75,1.07)">A</text>
<text x="186.11" y="618.22" font-size="28.2" fill="#3e3589" stroke="#3e3589" stroke-width="0.55" text-anchor="middle" transform="scale(0.75,1.07)">U</text>
<text x="207.87" y="618.22" font-size="28.2" fill="#3e3589" stroke="#3e3589" stroke-width="0.55" text-anchor="middle" transform="scale(0.75,1.07)">U</text>
<text x="229.63" y="618.22" font-size="28.2" fill="#3e3589" stroke="#3e3589" stroke-width="0.55" text-anchor="middle" transform="scale(0.75,1.07)">A</text>
<text x="251.39" y="618.22" font-size="28.2" fill="#3e3589" stroke="#3e3589" stroke-width="0.55" text-anchor="middle" transform="scale(0.75,1.07)">A</text>
<text x="273.15" y="618.22" font-size="28.2" fill="#3e3589" stroke="#3e3589" stroke-width="0.55" text-anchor="middle" transform="scale(0.75,1.07)">A</text>
<text x="294.91" y="618.22" font-size="28.2" fill="#3e3589" stroke="#3e3589" stroke-width="0.55" text-anchor="middle" transform="scale(0.75,1.07)">A</text>
<text x="316.67" y="618.22" font-size="28.2" fill="#3e3589" stroke="#3e3589" stroke-width="0.55" text-anchor="middle" transform="scale(0.75,1.07)">U</text>
<text x="338.43" y="618.22" font-size="28.2" fill="#3e3589" stroke="#3e3589" stroke-width="0.55" text-anchor="middle" transform="scale(0.75,1.07)">C</text>
<text x="360.19" y="618.22" font-size="28.2" fill="#3e3589" stroke="#3e3589" stroke-width="0.55" text-anchor="middle" transform="scale(0.75,1.07)">C</text>
<text x="381.95" y="618.22" font-size="28.2" fill="#3e3589" stroke="#3e3589" stroke-width="0.55" text-anchor="middle" transform="scale(0.75,1.07)">C</text>
<line x1="74.6" y1="619.8" x2="74.6" y2="632.3" stroke="#000" stroke-width="3" stroke-linecap="round"/>
<line x1="90.92" y1="619.8" x2="90.92" y2="632.3" stroke="#000" stroke-width="3" stroke-linecap="round"/>
<line x1="107.24" y1="619.8" x2="107.24" y2="632.3" stroke="#000" stroke-width="3" stroke-linecap="round"/>
<line x1="123.56" y1="619.8" x2="123.56" y2="632.3" stroke="#000" stroke-width="3" stroke-linecap="round"/>
<line x1="139.88" y1="619.8" x2="139.88" y2="632.3" stroke="#000" stroke-width="3" stroke-linecap="round"/>
<line x1="156.2" y1="619.8" x2="156.2" y2="632.3" stroke="#000" stroke-width="3" stroke-linecap="round"/>
<line x1="172.52" y1="619.8" x2="172.52" y2="632.3" stroke="#000" stroke-width="3" stroke-linecap="round"/>
<line x1="188.84" y1="619.8" x2="188.84" y2="632.3" stroke="#000" stroke-width="3" stroke-linecap="round"/>
<line x1="205.16" y1="619.8" x2="205.16" y2="632.3" stroke="#000" stroke-width="3" stroke-linecap="round"/>
<line x1="221.48" y1="619.8" x2="221.48" y2="632.3" stroke="#000" stroke-width="3" stroke-linecap="round"/>
<line x1="237.8" y1="619.8" x2="237.8" y2="632.3" stroke="#000" stroke-width="3" stroke-linecap="round"/>
<line x1="254.12" y1="619.8" x2="254.12" y2="632.3" stroke="#000" stroke-width="3" stroke-linecap="round"/>
<line x1="270.44" y1="619.8" x2="270.44" y2="632.3" stroke="#000" stroke-width="3" stroke-linecap="round"/>
<line x1="286.76" y1="619.8" x2="286.76" y2="632.3" stroke="#000" stroke-width="3" stroke-linecap="round"/>
<text x="21.2" y="574.77" font-size="28.2" fill="#000" stroke="#000" stroke-width="0.55" text-anchor="middle" transform="scale(0.75,1.07)">U</text>
<text x="59.07" y="561.68" font-size="28.2" fill="#000" stroke="#000" stroke-width="0.55" text-anchor="middle" transform="scale(0.75,1.07)">U</text>
<text x="20.93" y="614.21" font-size="28.2" fill="#000" stroke="#000" stroke-width="0.55" text-anchor="middle" transform="scale(0.75,1.07)">C</text>
<text x="62.93" y="625.79" font-size="28.2" fill="#000" stroke="#000" stroke-width="0.55" text-anchor="middle" transform="scale(0.75,1.07)">G</text>
<path d="M24.5 600.6 Q29.5 596.2 34.9 593.4" fill="none" stroke="#000" stroke-width="2.8" stroke-linecap="round"/>
<path d="M53.6 591.6 Q60 593.4 65.6 597.3" fill="none" stroke="#000" stroke-width="2.8" stroke-linecap="round"/>
<path d="M14.2 618 Q11.6 625.7 14.2 633.4" fill="none" stroke="#000" stroke-width="2.8" stroke-linecap="round"/>
<path d="M25.0 651.6 Q31 656.2 37.6 659" fill="none" stroke="#000" stroke-width="2.8" stroke-linecap="round"/>
<path d="M56.4 659 Q61 656.8 65.6 654.9" fill="none" stroke="#000" stroke-width="2.8" stroke-linecap="round"/>
<g transform="translate(393.4,610.5) scale(1,1.035)"><text x="0" y="0" font-size="27" fill="#000" font-weight="normal" font-style="normal">–5′ FAM</text></g>
<g transform="translate(278.98,690) scale(1,1.035)"><text x="0" y="0" font-size="27" fill="#3e3589" font-weight="normal" font-style="normal" stroke="#3e3589" stroke-width="0.45">+B</text></g>
<text x="99.07" y="689.44" font-size="28.2" fill="#ad1c1e" stroke="#ad1c1e" stroke-width="0.55" text-anchor="middle" transform="scale(0.75,1.07)">C</text>
<text x="120.83" y="689.44" font-size="28.2" fill="#ad1c1e" stroke="#ad1c1e" stroke-width="0.55" text-anchor="middle" transform="scale(0.75,1.07)">G</text>
<text x="142.59" y="689.44" font-size="28.2" fill="#ad1c1e" stroke="#ad1c1e" stroke-width="0.55" text-anchor="middle" transform="scale(0.75,1.07)">A</text>
<text x="164.35" y="689.44" font-size="28.2" fill="#ad1c1e" stroke="#ad1c1e" stroke-width="0.55" text-anchor="middle" transform="scale(0.75,1.07)">U</text>
<text x="186.11" y="689.44" font-size="28.2" fill="#ad1c1e" stroke="#ad1c1e" stroke-width="0.55" text-anchor="middle" transform="scale(0.75,1.07)">A</text>
<text x="207.87" y="689.44" font-size="28.2" fill="#ad1c1e" stroke="#ad1c1e" stroke-width="0.55" text-anchor="middle" transform="scale(0.75,1.07)">A</text>
<text x="229.63" y="689.44" font-size="28.2" fill="#ad1c1e" stroke="#ad1c1e" stroke-width="0.55" text-anchor="middle" transform="scale(0.75,1.07)">U</text>
<text x="251.39" y="689.44" font-size="28.2" fill="#ad1c1e" stroke="#ad1c1e" stroke-width="0.55" text-anchor="middle" transform="scale(0.75,1.07)">U</text>
<text x="273.15" y="689.44" font-size="28.2" fill="#ad1c1e" stroke="#ad1c1e" stroke-width="0.55" text-anchor="middle" transform="scale(0.75,1.07)">U</text>
<text x="294.91" y="689.44" font-size="28.2" fill="#ad1c1e" stroke="#ad1c1e" stroke-width="0.55" text-anchor="middle" transform="scale(0.75,1.07)">U</text>
<text x="316.67" y="689.44" font-size="28.2" fill="#ad1c1e" stroke="#ad1c1e" stroke-width="0.55" text-anchor="middle" transform="scale(0.75,1.07)">A</text>
<text x="338.43" y="689.44" font-size="28.2" fill="#ad1c1e" stroke="#ad1c1e" stroke-width="0.55" text-anchor="middle" transform="scale(0.75,1.07)">G</text>
<text x="360.19" y="689.44" font-size="28.2" fill="#ad1c1e" stroke="#ad1c1e" stroke-width="0.55" text-anchor="middle" transform="scale(0.75,1.07)">G</text>
<text x="381.95" y="689.44" font-size="28.2" fill="#ad1c1e" stroke="#ad1c1e" stroke-width="0.55" text-anchor="middle" transform="scale(0.75,1.07)">G</text>
<text x="403.71" y="689.44" font-size="28.2" fill="#ad1c1e" stroke="#ad1c1e" stroke-width="0.55" text-anchor="middle" transform="scale(0.75,1.07)">A</text>
<text x="425.47" y="689.44" font-size="28.2" fill="#ad1c1e" stroke="#ad1c1e" stroke-width="0.55" text-anchor="middle" transform="scale(0.75,1.07)">C</text>
<text x="447.23" y="689.44" font-size="28.2" fill="#ad1c1e" stroke="#ad1c1e" stroke-width="0.55" text-anchor="middle" transform="scale(0.75,1.07)">A</text>
<text x="468.99" y="689.44" font-size="28.2" fill="#ad1c1e" stroke="#ad1c1e" stroke-width="0.55" text-anchor="middle" transform="scale(0.75,1.07)">G</text>
<text x="490.75" y="689.44" font-size="28.2" fill="#ad1c1e" stroke="#ad1c1e" stroke-width="0.55" text-anchor="middle" transform="scale(0.75,1.07)">G</text>
<text x="512.51" y="689.44" font-size="28.2" fill="#ad1c1e" stroke="#ad1c1e" stroke-width="0.55" text-anchor="middle" transform="scale(0.75,1.07)">A</text>
<text x="99.07" y="735.7" font-size="28.2" fill="#3e3589" stroke="#3e3589" stroke-width="0.55" text-anchor="middle" transform="scale(0.75,1.07)">G</text>
<text x="120.83" y="735.7" font-size="28.2" fill="#3e3589" stroke="#3e3589" stroke-width="0.55" text-anchor="middle" transform="scale(0.75,1.07)">C</text>
<text x="142.59" y="735.7" font-size="28.2" fill="#3e3589" stroke="#3e3589" stroke-width="0.55" text-anchor="middle" transform="scale(0.75,1.07)">U</text>
<text x="164.35" y="735.7" font-size="28.2" fill="#3e3589" stroke="#3e3589" stroke-width="0.55" text-anchor="middle" transform="scale(0.75,1.07)">A</text>
<text x="186.11" y="735.7" font-size="28.2" fill="#3e3589" stroke="#3e3589" stroke-width="0.55" text-anchor="middle" transform="scale(0.75,1.07)">U</text>
<text x="207.87" y="735.7" font-size="28.2" fill="#3e3589" stroke="#3e3589" stroke-width="0.55" text-anchor="middle" transform="scale(0.75,1.07)">U</text>
<text x="229.63" y="735.7" font-size="28.2" fill="#3e3589" stroke="#3e3589" stroke-width="0.55" text-anchor="middle" transform="scale(0.75,1.07)">A</text>
<text x="251.39" y="735.7" font-size="28.2" fill="#3e3589" stroke="#3e3589" stroke-width="0.55" text-anchor="middle" transform="scale(0.75,1.07)">A</text>
<text x="273.15" y="735.7" font-size="28.2" fill="#3e3589" stroke="#3e3589" stroke-width="0.55" text-anchor="middle" transform="scale(0.75,1.07)">A</text>
<text x="294.91" y="735.7" font-size="28.2" fill="#3e3589" stroke="#3e3589" stroke-width="0.55" text-anchor="middle" transform="scale(0.75,1.07)">A</text>
<text x="316.67" y="735.7" font-size="28.2" fill="#3e3589" stroke="#3e3589" stroke-width="0.55" text-anchor="middle" transform="scale(0.75,1.07)">U</text>
<text x="338.43" y="735.7" font-size="28.2" fill="#3e3589" stroke="#3e3589" stroke-width="0.55" text-anchor="middle" transform="scale(0.75,1.07)">C</text>
<text x="360.19" y="735.7" font-size="28.2" fill="#3e3589" stroke="#3e3589" stroke-width="0.55" text-anchor="middle" transform="scale(0.75,1.07)">C</text>
<text x="381.95" y="735.7" font-size="28.2" fill="#3e3589" stroke="#3e3589" stroke-width="0.55" text-anchor="middle" transform="scale(0.75,1.07)">C</text>
<line x1="74.6" y1="745.5" x2="74.6" y2="758" stroke="#000" stroke-width="3" stroke-linecap="round"/>
<line x1="90.92" y1="745.5" x2="90.92" y2="758" stroke="#000" stroke-width="3" stroke-linecap="round"/>
<line x1="107.24" y1="745.5" x2="107.24" y2="758" stroke="#000" stroke-width="3" stroke-linecap="round"/>
<line x1="123.56" y1="745.5" x2="123.56" y2="758" stroke="#000" stroke-width="3" stroke-linecap="round"/>
<line x1="139.88" y1="745.5" x2="139.88" y2="758" stroke="#000" stroke-width="3" stroke-linecap="round"/>
<line x1="156.2" y1="745.5" x2="156.2" y2="758" stroke="#000" stroke-width="3" stroke-linecap="round"/>
<line x1="172.52" y1="745.5" x2="172.52" y2="758" stroke="#000" stroke-width="3" stroke-linecap="round"/>
<line x1="188.84" y1="745.5" x2="188.84" y2="758" stroke="#000" stroke-width="3" stroke-linecap="round"/>
<line x1="205.16" y1="745.5" x2="205.16" y2="758" stroke="#000" stroke-width="3" stroke-linecap="round"/>
<line x1="221.48" y1="745.5" x2="221.48" y2="758" stroke="#000" stroke-width="3" stroke-linecap="round"/>
<line x1="237.8" y1="745.5" x2="237.8" y2="758" stroke="#000" stroke-width="3" stroke-linecap="round"/>
<line x1="254.12" y1="745.5" x2="254.12" y2="758" stroke="#000" stroke-width="3" stroke-linecap="round"/>
<line x1="270.44" y1="745.5" x2="270.44" y2="758" stroke="#000" stroke-width="3" stroke-linecap="round"/>
<line x1="286.76" y1="745.5" x2="286.76" y2="758" stroke="#000" stroke-width="3" stroke-linecap="round"/>
<text x="21.2" y="692.24" font-size="28.2" fill="#000" stroke="#000" stroke-width="0.55" text-anchor="middle" transform="scale(0.75,1.07)">U</text>
<text x="59.07" y="679.16" font-size="28.2" fill="#000" stroke="#000" stroke-width="0.55" text-anchor="middle" transform="scale(0.75,1.07)">U</text>
<text x="20.93" y="731.68" font-size="28.2" fill="#000" stroke="#000" stroke-width="0.55" text-anchor="middle" transform="scale(0.75,1.07)">C</text>
<text x="62.93" y="743.27" font-size="28.2" fill="#000" stroke="#000" stroke-width="0.55" text-anchor="middle" transform="scale(0.75,1.07)">G</text>
<path d="M24.5 726.3 Q29.5 721.9 34.9 719.1" fill="none" stroke="#000" stroke-width="2.8" stroke-linecap="round"/>
<path d="M53.6 717.3 Q60 719.1 65.6 723" fill="none" stroke="#000" stroke-width="2.8" stroke-linecap="round"/>
<path d="M14.2 743.7 Q11.6 751.4 14.2 759.1" fill="none" stroke="#000" stroke-width="2.8" stroke-linecap="round"/>
<path d="M25.0 777.3 Q31 781.9 37.6 784.7" fill="none" stroke="#000" stroke-width="2.8" stroke-linecap="round"/>
<path d="M56.4 784.7 Q61 782.5 65.6 780.6" fill="none" stroke="#000" stroke-width="2.8" stroke-linecap="round"/>
<g transform="translate(393.4,736.2) scale(1,1.035)"><text x="0" y="0" font-size="27" fill="#000" font-weight="normal" font-style="normal">–5′ FAM</text></g>
<g transform="translate(278.98,815.7) scale(1,1.035)"><text x="0" y="0" font-size="27" fill="#3e3589" font-weight="normal" font-style="normal" stroke="#3e3589" stroke-width="0.45">+S</text></g>
<g transform="translate(9.99,851.6) scale(1,1.035)"><text x="0" y="0" font-size="27.6" fill="#000" font-weight="normal" font-style="normal"> : T20P 4</text><path d="M763 0H583V1102C540 1063 483 1023 413 984C343 945 280 915 223 895V1062C323 1107 411 1162 486 1226C561 1291 614 1353 645 1415H763Z" fill="#000" transform="translate(0,0) scale(0.01348,-0.01348)"/><path d="M763 0H583V1102C540 1063 483 1023 413 984C343 945 280 915 223 895V1062C323 1107 411 1162 486 1226C561 1291 614 1353 645 1415H763Z" fill="#000" transform="translate(96.65,0) scale(0.01348,-0.01348)"/></g>
<g transform="translate(11.61,884.65) scale(1,1.035)"><text x="0" y="0" font-size="27.6" fill="#000" font-weight="normal" font-style="normal">2: T20P 4 + BTP</text><path d="M763 0H583V1102C540 1063 483 1023 413 984C343 945 280 915 223 895V1062C323 1107 411 1162 486 1226C561 1291 614 1353 645 1415H763Z" fill="#000" transform="translate(96.65,0) scale(0.01348,-0.01348)"/></g>
<g transform="translate(11.95,917.7) scale(1,1.035)"><text x="0" y="0" font-size="27.6" fill="#000" font-weight="normal" font-style="normal">3: T20P 4-G</text><path d="M763 0H583V1102C540 1063 483 1023 413 984C343 945 280 915 223 895V1062C323 1107 411 1162 486 1226C561 1291 614 1353 645 1415H763Z" fill="#000" transform="translate(96.65,0) scale(0.01348,-0.01348)"/></g>
<g transform="translate(12.37,950.75) scale(1,1.035)"><text x="0" y="0" font-size="27.6" fill="#000" font-weight="normal" font-style="normal">4: T20P 4</text><path d="M763 0H583V1102C540 1063 483 1023 413 984C343 945 280 915 223 895V1062C323 1107 411 1162 486 1226C561 1291 614 1353 645 1415H763Z" fill="#000" transform="translate(96.65,0) scale(0.01348,-0.01348)"/></g>
<g transform="translate(11.89,983.8) scale(1,1.035)"><text x="0" y="0" font-size="27.6" fill="#000" font-weight="normal" font-style="normal">5: T20P 4 + STP</text><path d="M763 0H583V1102C540 1063 483 1023 413 984C343 945 280 915 223 895V1062C323 1107 411 1162 486 1226C561 1291 614 1353 645 1415H763Z" fill="#000" transform="translate(96.65,0) scale(0.01348,-0.01348)"/></g>
<g transform="translate(11.6,1016.85) scale(1,1.035)"><text x="0" y="0" font-size="27.6" fill="#000" font-weight="normal" font-style="normal">6: T20P 4-U</text><path d="M763 0H583V1102C540 1063 483 1023 413 984C343 945 280 915 223 895V1062C323 1107 411 1162 486 1226C561 1291 614 1353 645 1415H763Z" fill="#000" transform="translate(96.65,0) scale(0.01348,-0.01348)"/></g>
<defs>
<filter id="bl2" x="-50%" y="-80%" width="200%" height="260%"><feGaussianBlur stdDeviation="1.2"/></filter>
<filter id="bl4" x="-50%" y="-50%" width="200%" height="200%"><feGaussianBlur stdDeviation="3.5"/></filter>
<filter id="bl3" x="-50%" y="-80%" width="200%" height="260%"><feGaussianBlur stdDeviation="2.2"/></filter>
<linearGradient id="lane" x1="0" y1="0" x2="0" y2="1">
<stop offset="0" stop-color="#d8d8d8"/><stop offset="0.3" stop-color="#e2e2e2"/><stop offset="1" stop-color="#e8e8e8"/></linearGradient>
<linearGradient id="lane1" x1="0" y1="0" x2="0" y2="1">
<stop offset="0" stop-color="#cdcdcd"/><stop offset="0.45" stop-color="#d8d8d8"/><stop offset="1" stop-color="#e3e3e3"/></linearGradient>
<clipPath id="g1"><rect x="242" y="877.6" width="112.4" height="136.6"/></clipPath>
<clipPath id="g2"><rect x="364.9" y="877.6" width="111.6" height="136.6"/></clipPath>
</defs>
<g clip-path="url(#g1)">
<rect x="240.6" y="876.3" width="115.2" height="139" fill="#f0f0f0"/>
<rect x="246.6" y="932.4" width="24.3" height="81.6" fill="url(#lane1)" opacity="1.0" filter="url(#bl4)"/>
<rect x="245.6" y="931.4" width="26.3" height="8" rx="4" fill="#b4b4b4" opacity="0.75" filter="url(#bl3)"/>
<rect x="243.6" y="918.4" width="30.3" height="14" rx="6" fill="#c0c0c0" opacity="0.5" filter="url(#bl4)"/>
<rect x="243.6" y="923.4" width="30.3" height="11" rx="7" ry="5" fill="#000" filter="url(#bl2)"/>
<rect x="285.4" y="923.5" width="22" height="90.5" fill="url(#lane)" opacity="0.8" filter="url(#bl4)"/>
<rect x="284.4" y="922.5" width="24" height="8" rx="4" fill="#b4b4b4" opacity="0.75" filter="url(#bl3)"/>
<rect x="282.4" y="911.8" width="28" height="11.7" rx="6" fill="#c0c0c0" opacity="0.5" filter="url(#bl4)"/>
<rect x="282.4" y="916.8" width="28" height="8.7" rx="7" ry="5" fill="#404040" filter="url(#bl2)"/>
<ellipse cx="296.4" cy="921.45" rx="9" ry="2.85" fill="#101010" filter="url(#bl3)"/>
<rect x="324.1" y="925.6" width="21.3" height="88.4" fill="url(#lane)" opacity="0.8" filter="url(#bl4)"/>
<rect x="323.1" y="924.6" width="23.3" height="8" rx="4" fill="#b4b4b4" opacity="0.75" filter="url(#bl3)"/>
<rect x="321.1" y="914" width="27.3" height="11.6" rx="6" fill="#c0c0c0" opacity="0.5" filter="url(#bl4)"/>
<rect x="321.1" y="919" width="27.3" height="8.6" rx="7" ry="5" fill="#444444" filter="url(#bl2)"/>
<ellipse cx="334.75" cy="923.6" rx="8.65" ry="2.8" fill="#101010" filter="url(#bl3)"/>
</g>
<rect x="241.85" y="877.55" width="112.7" height="136.6" fill="none" stroke="#222" stroke-width="2.5"/>
<g clip-path="url(#g2)">
<rect x="363.2" y="876.3" width="114.6" height="139" fill="#f0f0f0"/>
<rect x="371.5" y="937.5" width="23.6" height="76.5" fill="url(#lane1)" opacity="1.0" filter="url(#bl4)"/>
<rect x="370.5" y="936.5" width="25.6" height="8" rx="4" fill="#b4b4b4" opacity="0.75" filter="url(#bl3)"/>
<rect x="368.5" y="922" width="29.6" height="15.5" rx="6" fill="#c0c0c0" opacity="0.5" filter="url(#bl4)"/>
<rect x="368.5" y="927" width="29.6" height="12.5" rx="7" ry="5" fill="#000" filter="url(#bl2)"/>
<rect x="408.9" y="925.6" width="21.2" height="88.4" fill="url(#lane)" opacity="0.8" filter="url(#bl4)"/>
<rect x="407.9" y="924.6" width="23.2" height="8" rx="4" fill="#b4b4b4" opacity="0.75" filter="url(#bl3)"/>
<rect x="405.9" y="914" width="27.2" height="11.6" rx="6" fill="#c0c0c0" opacity="0.5" filter="url(#bl4)"/>
<rect x="405.9" y="919" width="27.2" height="8.6" rx="7" ry="5" fill="#404040" filter="url(#bl2)"/>
<ellipse cx="419.5" cy="923.6" rx="8.6" ry="2.8" fill="#101010" filter="url(#bl3)"/>
<rect x="446.9" y="925.2" width="20.5" height="88.8" fill="url(#lane)" opacity="0.8" filter="url(#bl4)"/>
<rect x="445.9" y="924.2" width="22.5" height="8" rx="4" fill="#b4b4b4" opacity="0.75" filter="url(#bl3)"/>
<rect x="443.9" y="914" width="26.5" height="11.2" rx="6" fill="#c0c0c0" opacity="0.5" filter="url(#bl4)"/>
<rect x="443.9" y="919" width="26.5" height="8.2" rx="7" ry="5" fill="#484848" filter="url(#bl2)"/>
<ellipse cx="457.15" cy="923.4" rx="8.25" ry="2.6" fill="#101010" filter="url(#bl3)"/>
</g>
<rect x="364.45" y="877.55" width="112.1" height="136.6" fill="none" stroke="#222" stroke-width="2.5"/>
<circle cx="471.8" cy="883.5" r="0.9" fill="#333"/>
<circle cx="389.4" cy="944.4" r="0.6" fill="#888"/>
<circle cx="388.4" cy="1008.2" r="0.6" fill="#999"/>
<circle cx="443.2" cy="1007.5" r="0.6" fill="#999"/>
<circle cx="293.3" cy="999" r="0.5" fill="#aaa"/>
<g transform="translate(255.9,868) scale(1,1.035)"><text x="0" y="0" font-size="27" fill="#000" font-weight="normal" font-style="normal"> </text><path d="M763 0H583V1102C540 1063 483 1023 413 984C343 945 280 915 223 895V1062C323 1107 411 1162 486 1226C561 1291 614 1353 645 1415H763Z" fill="#000" transform="translate(0,0) scale(0.01318,-0.01318)"/></g>
<g transform="translate(289.99,868) scale(1,1.035)"><text x="0" y="0" font-size="27" fill="#000" font-weight="normal" font-style="normal">2</text></g>
<g transform="translate(330.37,868) scale(1,1.035)"><text x="0" y="0" font-size="27" fill="#000" font-weight="normal" font-style="normal">3</text></g>
<g transform="translate(375.98,868) scale(1,1.035)"><text x="0" y="0" font-size="27" fill="#000" font-weight="normal" font-style="normal">4</text></g>
<g transform="translate(415.32,868) scale(1,1.035)"><text x="0" y="0" font-size="27" fill="#000" font-weight="normal" font-style="normal">5</text></g>
<g transform="translate(452.6,868) scale(1,1.035)"><text x="0" y="0" font-size="27" fill="#000" font-weight="normal" font-style="normal">6</text></g>
<line x1="398.4" y1="936.2" x2="480" y2="936.2" stroke="#111" stroke-width="2.2" stroke-linecap="butt" stroke-dasharray="6.4 4.4"/>
<path d="M481.4 925.6 L493.9 925.6 L501.3 912.3" fill="none" stroke="#000" stroke-width="2.1"/>
<path d="M481.4 936.2 L493.9 936.2 L501.3 949.3" fill="none" stroke="#000" stroke-width="2.1"/>
<g transform="translate(504.27,919.8) scale(1,1.035)"><text x="0" y="0" font-size="27.3" fill="#000" font-weight="normal" font-style="normal">+  nt</text><path d="M763 0H583V1102C540 1063 483 1023 413 984C343 945 280 915 223 895V1062C323 1107 411 1162 486 1226C561 1291 614 1353 645 1415H763Z" fill="#000" transform="translate(15.94,0) scale(0.01333,-0.01333)"/></g>
<g transform="translate(504.69,960.7) scale(1,1.035)"><text x="0" y="0" font-size="27.3" fill="#000" font-weight="normal" font-style="normal">T20P 4</text><path d="M763 0H583V1102C540 1063 483 1023 413 984C343 945 280 915 223 895V1062C323 1107 411 1162 486 1226C561 1291 614 1353 645 1415H763Z" fill="#000" transform="translate(65.25,0) scale(0.01333,-0.01333)"/></g>
<line x1="650.7" y1="572.9" x2="650.7" y2="928.2" stroke="#000" stroke-width="2.6" stroke-linecap="butt"/>
<line x1="649.4" y1="927" x2="1064.6" y2="927" stroke="#000" stroke-width="2.6" stroke-linecap="butt"/>
<line x1="642.4" y1="903.3" x2="650.7" y2="903.3" stroke="#000" stroke-width="2.4" stroke-linecap="butt"/>
<g transform="translate(624.1,913.41) scale(1,1.035)"><text x="0" y="0" font-size="29.4" fill="#000" font-weight="normal" font-style="normal">0</text></g>
<line x1="642.4" y1="821.01" x2="650.7" y2="821.01" stroke="#000" stroke-width="2.4" stroke-linecap="butt"/>
<g transform="translate(607.83,831.13) scale(1,1.035)"><text x="0" y="0" font-size="29.4" fill="#000" font-weight="normal" font-style="normal">35</text></g>
<line x1="642.4" y1="738.73" x2="650.7" y2="738.73" stroke="#000" stroke-width="2.4" stroke-linecap="butt"/>
<g transform="translate(607.75,748.84) scale(1,1.035)"><text x="0" y="0" font-size="29.4" fill="#000" font-weight="normal" font-style="normal">70</text></g>
<line x1="642.4" y1="656.44" x2="650.7" y2="656.44" stroke="#000" stroke-width="2.4" stroke-linecap="butt"/>
<g transform="translate(591.48,666.56) scale(1,1.035)"><text x="0" y="0" font-size="29.4" fill="#000" font-weight="normal" font-style="normal"> 05</text><path d="M763 0H583V1102C540 1063 483 1023 413 984C343 945 280 915 223 895V1062C323 1107 411 1162 486 1226C561 1291 614 1353 645 1415H763Z" fill="#000" transform="translate(0,0) scale(0.01436,-0.01436)"/></g>
<line x1="642.4" y1="574.16" x2="650.7" y2="574.16" stroke="#000" stroke-width="2.4" stroke-linecap="butt"/>
<g transform="translate(591.4,584.27) scale(1,1.035)"><text x="0" y="0" font-size="29.4" fill="#000" font-weight="normal" font-style="normal"> 40</text><path d="M763 0H583V1102C540 1063 483 1023 413 984C343 945 280 915 223 895V1062C323 1107 411 1162 486 1226C561 1291 614 1353 645 1415H763Z" fill="#000" transform="translate(0,0) scale(0.01436,-0.01436)"/></g>
<line x1="650.7" y1="927" x2="650.7" y2="935.4" stroke="#000" stroke-width="2.4" stroke-linecap="butt"/>
<g transform="translate(643.62,964.6) scale(1,1.035)"><text x="0" y="0" font-size="29.4" fill="#000" font-weight="normal" font-style="normal"> </text><path d="M763 0H583V1102C540 1063 483 1023 413 984C343 945 280 915 223 895V1062C323 1107 411 1162 486 1226C561 1291 614 1353 645 1415H763Z" fill="#000" transform="translate(0,0) scale(0.01436,-0.01436)"/></g>
<line x1="753.9" y1="927" x2="753.9" y2="935.4" stroke="#000" stroke-width="2.4" stroke-linecap="butt"/>
<g transform="translate(736.52,964.6) scale(1,1.035)"><text x="0" y="0" font-size="29.4" fill="#000" font-weight="normal" font-style="normal"> 0</text><path d="M763 0H583V1102C540 1063 483 1023 413 984C343 945 280 915 223 895V1062C323 1107 411 1162 486 1226C561 1291 614 1353 645 1415H763Z" fill="#000" transform="translate(0,0) scale(0.01436,-0.01436)"/></g>
<line x1="857.1" y1="927" x2="857.1" y2="935.4" stroke="#000" stroke-width="2.4" stroke-linecap="butt"/>
<g transform="translate(831.55,964.6) scale(1,1.035)"><text x="0" y="0" font-size="29.4" fill="#000" font-weight="normal" font-style="normal"> 00</text><path d="M763 0H583V1102C540 1063 483 1023 413 984C343 945 280 915 223 895V1062C323 1107 411 1162 486 1226C561 1291 614 1353 645 1415H763Z" fill="#000" transform="translate(0,0) scale(0.01436,-0.01436)"/></g>
<line x1="960.3" y1="927" x2="960.3" y2="935.4" stroke="#000" stroke-width="2.4" stroke-linecap="butt"/>
<g transform="translate(926.57,964.6) scale(1,1.035)"><text x="0" y="0" font-size="29.4" fill="#000" font-weight="normal" font-style="normal"> 000</text><path d="M763 0H583V1102C540 1063 483 1023 413 984C343 945 280 915 223 895V1062C323 1107 411 1162 486 1226C561 1291 614 1353 645 1415H763Z" fill="#000" transform="translate(0,0) scale(0.01436,-0.01436)"/></g>
<line x1="1063.5" y1="927" x2="1063.5" y2="935.4" stroke="#000" stroke-width="2.4" stroke-linecap="butt"/>
<g transform="translate(1021.6,964.6) scale(1,1.035)"><text x="0" y="0" font-size="29.4" fill="#000" font-weight="normal" font-style="normal"> 0000</text><path d="M763 0H583V1102C540 1063 483 1023 413 984C343 945 280 915 223 895V1062C323 1107 411 1162 486 1226C561 1291 614 1353 645 1415H763Z" fill="#000" transform="translate(0,0) scale(0.01436,-0.01436)"/></g>
<g transform="translate(776.68,1002.6) scale(1,1.035)"><text x="0" y="0" font-size="30" fill="#000" font-weight="normal" font-style="normal">[RdRp] (nM)</text></g>
<text transform="translate(579.0,740.7) rotate(-90) scale(1,1.035)" x="0" y="0" font-size="30.0" text-anchor="middle">ΔmP</text>
<g fill="#000"><circle cx="1062.2" cy="903.1" r="1.2"/><circle cx="1057.58" cy="903.1" r="1.2"/><circle cx="1052.96" cy="903.1" r="1.2"/><circle cx="1048.34" cy="903.1" r="1.2"/><circle cx="1043.72" cy="903.1" r="1.2"/><circle cx="1039.1" cy="903.1" r="1.2"/><circle cx="1034.48" cy="903.1" r="1.2"/><circle cx="1029.86" cy="903.1" r="1.2"/><circle cx="1025.24" cy="903.1" r="1.2"/><circle cx="1020.62" cy="903.1" r="1.2"/><circle cx="1016" cy="903.1" r="1.2"/><circle cx="1011.38" cy="903.1" r="1.2"/><circle cx="1006.76" cy="903.1" r="1.2"/><circle cx="1002.14" cy="903.1" r="1.2"/><circle cx="997.52" cy="903.1" r="1.2"/><circle cx="992.9" cy="903.1" r="1.2"/><circle cx="988.28" cy="903.1" r="1.2"/><circle cx="983.66" cy="903.1" r="1.2"/><circle cx="979.04" cy="903.1" r="1.2"/><circle cx="974.42" cy="903.1" r="1.2"/><circle cx="969.8" cy="903.1" r="1.2"/><circle cx="965.18" cy="903.1" r="1.2"/><circle cx="960.56" cy="903.1" r="1.2"/><circle cx="955.94" cy="903.1" r="1.2"/><circle cx="951.32" cy="903.1" r="1.2"/><circle cx="946.7" cy="903.1" r="1.2"/><circle cx="942.08" cy="903.1" r="1.2"/><circle cx="937.46" cy="903.1" r="1.2"/><circle cx="932.84" cy="903.1" r="1.2"/><circle cx="928.22" cy="903.1" r="1.2"/><circle cx="923.6" cy="903.1" r="1.2"/><circle cx="918.98" cy="903.1" r="1.2"/><circle cx="914.36" cy="903.1" r="1.2"/><circle cx="909.74" cy="903.1" r="1.2"/><circle cx="905.12" cy="903.1" r="1.2"/><circle cx="900.5" cy="903.1" r="1.2"/><circle cx="895.88" cy="903.1" r="1.2"/><circle cx="891.26" cy="903.1" r="1.2"/><circle cx="886.64" cy="903.1" r="1.2"/><circle cx="882.02" cy="903.1" r="1.2"/><circle cx="877.4" cy="903.1" r="1.2"/><circle cx="872.78" cy="903.1" r="1.2"/><circle cx="868.16" cy="903.1" r="1.2"/><circle cx="863.54" cy="903.1" r="1.2"/><circle cx="858.92" cy="903.1" r="1.2"/><circle cx="854.3" cy="903.1" r="1.2"/><circle cx="849.68" cy="903.1" r="1.2"/><circle cx="845.06" cy="903.1" r="1.2"/><circle cx="840.44" cy="903.1" r="1.2"/><circle cx="835.82" cy="903.1" r="1.2"/><circle cx="831.2" cy="903.1" r="1.2"/><circle cx="826.58" cy="903.1" r="1.2"/><circle cx="821.96" cy="903.1" r="1.2"/><circle cx="817.34" cy="903.1" r="1.2"/><circle cx="812.72" cy="903.1" r="1.2"/><circle cx="808.1" cy="903.1" r="1.2"/><circle cx="803.48" cy="903.1" r="1.2"/><circle cx="798.86" cy="903.1" r="1.2"/><circle cx="794.24" cy="903.1" r="1.2"/><circle cx="789.62" cy="903.1" r="1.2"/><circle cx="785" cy="903.1" r="1.2"/><circle cx="780.38" cy="903.1" r="1.2"/><circle cx="775.76" cy="903.1" r="1.2"/><circle cx="771.14" cy="903.1" r="1.2"/><circle cx="766.52" cy="903.1" r="1.2"/><circle cx="761.9" cy="903.1" r="1.2"/><circle cx="757.28" cy="903.1" r="1.2"/><circle cx="752.66" cy="903.1" r="1.2"/><circle cx="748.04" cy="903.1" r="1.2"/><circle cx="743.42" cy="903.1" r="1.2"/><circle cx="738.8" cy="903.1" r="1.2"/><circle cx="734.18" cy="903.1" r="1.2"/><circle cx="729.56" cy="903.1" r="1.2"/><circle cx="724.94" cy="903.1" r="1.2"/><circle cx="720.32" cy="903.1" r="1.2"/><circle cx="715.7" cy="903.1" r="1.2"/><circle cx="711.08" cy="903.1" r="1.2"/><circle cx="706.46" cy="903.1" r="1.2"/><circle cx="701.84" cy="903.1" r="1.2"/><circle cx="697.22" cy="903.1" r="1.2"/><circle cx="692.6" cy="903.1" r="1.2"/><circle cx="687.98" cy="903.1" r="1.2"/><circle cx="683.36" cy="903.1" r="1.2"/><circle cx="678.74" cy="903.1" r="1.2"/><circle cx="674.12" cy="903.1" r="1.2"/><circle cx="669.5" cy="903.1" r="1.2"/><circle cx="664.88" cy="903.1" r="1.2"/><circle cx="660.26" cy="903.1" r="1.2"/><circle cx="655.64" cy="903.1" r="1.2"/></g>
<path d="M680.7 903.29 L683.03 903.29 L685.36 903.29 L687.69 903.29 L690.02 903.28 L692.35 903.28 L694.68 903.28 L697.01 903.28 L699.34 903.28 L701.67 903.28 L704 903.28 L706.33 903.27 L708.66 903.27 L710.99 903.27 L713.32 903.27 L715.65 903.26 L717.98 903.26 L720.31 903.26 L722.64 903.25 L724.97 903.25 L727.3 903.24 L729.63 903.24 L731.96 903.23 L734.29 903.23 L736.62 903.22 L738.95 903.21 L741.28 903.21 L743.61 903.2 L745.94 903.19 L748.27 903.18 L750.6 903.17 L752.93 903.16 L755.26 903.15 L757.59 903.13 L759.92 903.12 L762.25 903.1 L764.58 903.09 L766.91 903.07 L769.24 903.05 L771.57 903.03 L773.9 903.01 L776.23 902.98 L778.56 902.95 L780.89 902.92 L783.22 902.89 L785.55 902.86 L787.88 902.82 L790.21 902.78 L792.54 902.73 L794.87 902.68 L797.2 902.63 L799.53 902.57 L801.86 902.51 L804.19 902.44 L806.52 902.37 L808.85 902.29 L811.18 902.2 L813.51 902.11 L815.84 902.01 L818.17 901.9 L820.5 901.78 L822.83 901.65 L825.16 901.51 L827.49 901.36 L829.82 901.19 L832.15 901.01 L834.48 900.82 L836.81 900.61 L839.14 900.38 L841.47 900.13 L843.8 899.86 L846.13 899.57 L848.46 899.26 L850.79 898.92 L853.12 898.55 L855.45 898.15 L857.78 897.72 L860.11 897.25 L862.44 896.74 L864.77 896.2 L867.1 895.61 L869.43 894.97 L871.76 894.28 L874.09 893.54 L876.42 892.74 L878.75 891.88 L881.08 890.95 L883.41 889.95 L885.74 888.87 L888.07 887.71 L890.4 886.47 L892.73 885.13 L895.06 883.7 L897.39 882.17 L899.72 880.53 L902.05 878.78 L904.38 876.9 L906.71 874.91 L909.04 872.78 L911.37 870.53 L913.7 868.13 L916.03 865.59 L918.36 862.9 L920.69 860.06 L923.02 857.07 L925.35 853.93 L927.68 850.63 L930.01 847.18 L932.34 843.57 L934.67 839.81 L937 835.91 L939.33 831.86 L941.66 827.68 L943.99 823.37 L946.32 818.94 L948.65 814.41 L950.98 809.78 L953.31 805.07 L955.64 800.3 L957.97 795.47 L960.3 790.6 L962.63 785.71 L964.96 780.82 L967.29 775.94 L969.62 771.09 L971.95 766.29 L974.28 761.54 L976.61 756.87 L978.94 752.29 L981.27 747.81 L983.6 743.44 L985.93 739.2 L988.26 735.08 L990.59 731.11 L992.92 727.28 L995.25 723.59 L997.58 720.06 L999.91 716.69 L1002.24 713.47 L1004.57 710.4 L1006.9 707.49 L1009.23 704.73 L1011.56 702.12 L1013.89 699.65 L1016.22 697.32 L1018.55 695.13 L1020.88 693.07 L1023.21 691.14 L1025.54 689.33 L1027.87 687.63 L1030.2 686.05 L1032.53 684.57 L1034.86 683.19 L1037.19 681.9 L1039.52 680.7 L1041.85 679.58 L1044.18 678.54 L1046.51 677.58 L1048.84 676.68 L1051.17 675.85 L1053.5 675.08" fill="none" stroke="#b22222" stroke-width="2.6"/>
<path d="M680.7 903.27 L683.03 903.27 L685.36 903.26 L687.69 903.26 L690.02 903.26 L692.35 903.25 L694.68 903.25 L697.01 903.24 L699.34 903.24 L701.67 903.23 L704 903.23 L706.33 903.22 L708.66 903.22 L710.99 903.21 L713.32 903.2 L715.65 903.19 L717.98 903.19 L720.31 903.18 L722.64 903.17 L724.97 903.15 L727.3 903.14 L729.63 903.13 L731.96 903.12 L734.29 903.1 L736.62 903.08 L738.95 903.07 L741.28 903.05 L743.61 903.03 L745.94 903 L748.27 902.98 L750.6 902.95 L752.93 902.92 L755.26 902.89 L757.59 902.86 L759.92 902.82 L762.25 902.78 L764.58 902.74 L766.91 902.69 L769.24 902.64 L771.57 902.59 L773.9 902.53 L776.23 902.47 L778.56 902.4 L780.89 902.32 L783.22 902.24 L785.55 902.16 L787.88 902.06 L790.21 901.96 L792.54 901.85 L794.87 901.73 L797.2 901.6 L799.53 901.46 L801.86 901.31 L804.19 901.15 L806.52 900.97 L808.85 900.78 L811.18 900.58 L813.51 900.35 L815.84 900.11 L818.17 899.85 L820.5 899.57 L822.83 899.27 L825.16 898.94 L827.49 898.58 L829.82 898.2 L832.15 897.79 L834.48 897.34 L836.81 896.86 L839.14 896.34 L841.47 895.78 L843.8 895.17 L846.13 894.52 L848.46 893.82 L850.79 893.06 L853.12 892.25 L855.45 891.37 L857.78 890.43 L860.11 889.42 L862.44 888.33 L864.77 887.16 L867.1 885.91 L869.43 884.56 L871.76 883.12 L874.09 881.58 L876.42 879.92 L878.75 878.16 L881.08 876.27 L883.41 874.26 L885.74 872.11 L888.07 869.83 L890.4 867.4 L892.73 864.82 L895.06 862.09 L897.39 859.19 L899.72 856.13 L902.05 852.9 L904.38 849.5 L906.71 845.92 L909.04 842.17 L911.37 838.23 L913.7 834.12 L916.03 829.83 L918.36 825.37 L920.69 820.74 L923.02 815.94 L925.35 810.99 L927.68 805.89 L930.01 800.65 L932.34 795.28 L934.67 789.8 L937 784.22 L939.33 778.55 L941.66 772.82 L943.99 767.03 L946.32 761.21 L948.65 755.37 L950.98 749.54 L953.31 743.73 L955.64 737.96 L957.97 732.24 L960.3 726.6 L962.63 721.04 L964.96 715.59 L967.29 710.26 L969.62 705.06 L971.95 700 L974.28 695.1 L976.61 690.35 L978.94 685.77 L981.27 681.35 L983.6 677.12 L985.93 673.06 L988.26 669.18 L990.59 665.47 L992.92 661.95 L995.25 658.6 L997.58 655.42 L999.91 652.41 L1002.24 649.56 L1004.57 646.87 L1006.9 644.34 L1009.23 641.95 L1011.56 639.71 L1013.89 637.6 L1016.22 635.63 L1018.55 633.78 L1020.88 632.05 L1023.21 630.43 L1025.54 628.91 L1027.87 627.5 L1030.2 626.18 L1032.53 624.95 L1034.86 623.81 L1037.19 622.74 L1039.52 621.75 L1041.85 620.83 L1044.18 619.97 L1046.51 619.17 L1048.84 618.43 L1051.17 617.75 L1053.5 617.11" fill="none" stroke="#483d8b" stroke-width="2.6"/>
<path d="M680.7 903.3 L683.03 903.3 L685.36 903.3 L687.69 903.3 L690.02 903.3 L692.35 903.3 L694.68 903.3 L697.01 903.3 L699.34 903.3 L701.67 903.3 L704 903.3 L706.33 903.3 L708.66 903.3 L710.99 903.3 L713.32 903.3 L715.65 903.3 L717.98 903.3 L720.31 903.3 L722.64 903.3 L724.97 903.3 L727.3 903.3 L729.63 903.3 L731.96 903.29 L734.29 903.29 L736.62 903.29 L738.95 903.29 L741.28 903.29 L743.61 903.29 L745.94 903.29 L748.27 903.29 L750.6 903.29 L752.93 903.28 L755.26 903.28 L757.59 903.28 L759.92 903.28 L762.25 903.27 L764.58 903.27 L766.91 903.27 L769.24 903.26 L771.57 903.26 L773.9 903.25 L776.23 903.25 L778.56 903.24 L780.89 903.23 L783.22 903.22 L785.55 903.21 L787.88 903.2 L790.21 903.19 L792.54 903.18 L794.87 903.16 L797.2 903.14 L799.53 903.12 L801.86 903.1 L804.19 903.08 L806.52 903.05 L808.85 903.01 L811.18 902.98 L813.51 902.94 L815.84 902.89 L818.17 902.84 L820.5 902.78 L822.83 902.72 L825.16 902.64 L827.49 902.56 L829.82 902.46 L832.15 902.36 L834.48 902.24 L836.81 902.1 L839.14 901.95 L841.47 901.78 L843.8 901.59 L846.13 901.37 L848.46 901.13 L850.79 900.86 L853.12 900.55 L855.45 900.2 L857.78 899.81 L860.11 899.38 L862.44 898.89 L864.77 898.33 L867.1 897.71 L869.43 897.02 L871.76 896.24 L874.09 895.36 L876.42 894.38 L878.75 893.29 L881.08 892.06 L883.41 890.69 L885.74 889.17 L888.07 887.46 L890.4 885.57 L892.73 883.46 L895.06 881.13 L897.39 878.54 L899.72 875.69 L902.05 872.53 L904.38 869.07 L906.71 865.27 L909.04 861.12 L911.37 856.59 L913.7 851.68 L916.03 846.37 L918.36 840.65 L920.69 834.52 L923.02 827.98 L925.35 821.04 L927.68 813.72 L930.01 806.04 L932.34 798.03 L934.67 789.74 L937 781.21 L939.33 772.49 L941.66 763.64 L943.99 754.72 L946.32 745.8 L948.65 736.94 L950.98 728.2 L953.31 719.64 L955.64 711.31 L957.97 703.27 L960.3 695.54 L962.63 688.18 L964.96 681.19 L967.29 674.59 L969.62 668.41 L971.95 662.64 L974.28 657.27 L976.61 652.31 L978.94 647.73 L981.27 643.53 L983.6 639.69 L985.93 636.18 L988.26 632.99 L990.59 630.1 L992.92 627.48 L995.25 625.11 L997.58 622.98 L999.91 621.06 L1002.24 619.33 L1004.57 617.78 L1006.9 616.39 L1009.23 615.15 L1011.56 614.04 L1013.89 613.05 L1016.22 612.16 L1018.55 611.37 L1020.88 610.66 L1023.21 610.03 L1025.54 609.47 L1027.87 608.97 L1030.2 608.53 L1032.53 608.13 L1034.86 607.78 L1037.19 607.47 L1039.52 607.19 L1041.85 606.94 L1044.18 606.73 L1046.51 606.53 L1048.84 606.36 L1051.17 606.2 L1053.5 606.07" fill="none" stroke="#228b22" stroke-width="2.6"/>
<path d="M680.7 903.3 L683.03 903.3 L685.36 903.3 L687.69 903.3 L690.02 903.3 L692.35 903.3 L694.68 903.3 L697.01 903.3 L699.34 903.3 L701.67 903.3 L704 903.3 L706.33 903.3 L708.66 903.3 L710.99 903.3 L713.32 903.3 L715.65 903.3 L717.98 903.3 L720.31 903.3 L722.64 903.3 L724.97 903.3 L727.3 903.3 L729.63 903.3 L731.96 903.3 L734.29 903.3 L736.62 903.3 L738.95 903.3 L741.28 903.3 L743.61 903.3 L745.94 903.3 L748.27 903.3 L750.6 903.3 L752.93 903.3 L755.26 903.3 L757.59 903.3 L759.92 903.29 L762.25 903.29 L764.58 903.29 L766.91 903.29 L769.24 903.29 L771.57 903.29 L773.9 903.29 L776.23 903.29 L778.56 903.28 L780.89 903.28 L783.22 903.28 L785.55 903.27 L787.88 903.27 L790.21 903.27 L792.54 903.26 L794.87 903.25 L797.2 903.25 L799.53 903.24 L801.86 903.23 L804.19 903.22 L806.52 903.21 L808.85 903.19 L811.18 903.18 L813.51 903.16 L815.84 903.13 L818.17 903.11 L820.5 903.08 L822.83 903.04 L825.16 903 L827.49 902.96 L829.82 902.91 L832.15 902.85 L834.48 902.78 L836.81 902.7 L839.14 902.6 L841.47 902.5 L843.8 902.37 L846.13 902.23 L848.46 902.07 L850.79 901.88 L853.12 901.66 L855.45 901.41 L857.78 901.12 L860.11 900.78 L862.44 900.4 L864.77 899.95 L867.1 899.44 L869.43 898.86 L871.76 898.19 L874.09 897.41 L876.42 896.53 L878.75 895.51 L881.08 894.35 L883.41 893.02 L885.74 891.49 L888.07 889.76 L890.4 887.78 L892.73 885.54 L895.06 882.99 L897.39 880.12 L899.72 876.87 L902.05 873.22 L904.38 869.14 L906.71 864.59 L909.04 859.53 L911.37 853.95 L913.7 847.82 L916.03 841.12 L918.36 833.87 L920.69 826.06 L923.02 817.72 L925.35 808.9 L927.68 799.63 L930.01 790 L932.34 780.08 L934.67 769.96 L937 759.76 L939.33 749.56 L941.66 739.48 L943.99 729.61 L946.32 720.05 L948.65 710.88 L950.98 702.15 L953.31 693.92 L955.64 686.23 L957.97 679.1 L960.3 672.53 L962.63 666.52 L964.96 661.05 L967.29 656.1 L969.62 651.65 L971.95 647.67 L974.28 644.11 L976.61 640.95 L978.94 638.14 L981.27 635.66 L983.6 633.48 L985.93 631.56 L988.26 629.87 L990.59 628.39 L992.92 627.1 L995.25 625.97 L997.58 624.98 L999.91 624.12 L1002.24 623.37 L1004.57 622.72 L1006.9 622.15 L1009.23 621.66 L1011.56 621.23 L1013.89 620.85 L1016.22 620.53 L1018.55 620.25 L1020.88 620 L1023.21 619.79 L1025.54 619.61 L1027.87 619.45 L1030.2 619.31 L1032.53 619.19 L1034.86 619.09 L1037.19 619 L1039.52 618.92 L1041.85 618.85 L1044.18 618.79 L1046.51 618.74 L1048.84 618.7 L1051.17 618.66 L1053.5 618.63" fill="none" stroke="#ffa500" stroke-width="2.6"/>
<line x1="680.7" y1="901.3" x2="680.7" y2="905.3" stroke="#b22222" stroke-width="2.2" stroke-linecap="butt"/>
<line x1="674.7" y1="901.3" x2="686.7" y2="901.3" stroke="#b22222" stroke-width="2.6" stroke-linecap="butt"/>
<line x1="674.7" y1="905.3" x2="686.7" y2="905.3" stroke="#b22222" stroke-width="2.6" stroke-linecap="butt"/>
<circle cx="680.7" cy="903.3" r="5.2" fill="#b22222"/>
<line x1="711.77" y1="901.3" x2="711.77" y2="905.3" stroke="#b22222" stroke-width="2.2" stroke-linecap="butt"/>
<line x1="705.77" y1="901.3" x2="717.77" y2="901.3" stroke="#b22222" stroke-width="2.6" stroke-linecap="butt"/>
<line x1="705.77" y1="905.3" x2="717.77" y2="905.3" stroke="#b22222" stroke-width="2.6" stroke-linecap="butt"/>
<circle cx="711.77" cy="903.3" r="5.2" fill="#b22222"/>
<line x1="742.84" y1="901.3" x2="742.84" y2="905.3" stroke="#b22222" stroke-width="2.2" stroke-linecap="butt"/>
<line x1="736.84" y1="901.3" x2="748.84" y2="901.3" stroke="#b22222" stroke-width="2.6" stroke-linecap="butt"/>
<line x1="736.84" y1="905.3" x2="748.84" y2="905.3" stroke="#b22222" stroke-width="2.6" stroke-linecap="butt"/>
<circle cx="742.84" cy="903.3" r="5.2" fill="#b22222"/>
<line x1="773.9" y1="900.83" x2="773.9" y2="904.83" stroke="#b22222" stroke-width="2.2" stroke-linecap="butt"/>
<line x1="767.9" y1="900.83" x2="779.9" y2="900.83" stroke="#b22222" stroke-width="2.6" stroke-linecap="butt"/>
<line x1="767.9" y1="904.83" x2="779.9" y2="904.83" stroke="#b22222" stroke-width="2.6" stroke-linecap="butt"/>
<circle cx="773.9" cy="902.83" r="5.2" fill="#b22222"/>
<line x1="804.97" y1="901.3" x2="804.97" y2="905.3" stroke="#b22222" stroke-width="2.2" stroke-linecap="butt"/>
<line x1="798.97" y1="901.3" x2="810.97" y2="901.3" stroke="#b22222" stroke-width="2.6" stroke-linecap="butt"/>
<line x1="798.97" y1="905.3" x2="810.97" y2="905.3" stroke="#b22222" stroke-width="2.6" stroke-linecap="butt"/>
<circle cx="804.97" cy="903.3" r="5.2" fill="#b22222"/>
<line x1="836.03" y1="899.69" x2="836.03" y2="904.09" stroke="#b22222" stroke-width="2.2" stroke-linecap="butt"/>
<line x1="830.03" y1="899.69" x2="842.03" y2="899.69" stroke="#b22222" stroke-width="2.6" stroke-linecap="butt"/>
<line x1="830.03" y1="904.09" x2="842.03" y2="904.09" stroke="#b22222" stroke-width="2.6" stroke-linecap="butt"/>
<circle cx="836.03" cy="901.89" r="5.2" fill="#b22222"/>
<line x1="867.1" y1="892.57" x2="867.1" y2="897.57" stroke="#b22222" stroke-width="2.2" stroke-linecap="butt"/>
<line x1="861.1" y1="892.57" x2="873.1" y2="892.57" stroke="#b22222" stroke-width="2.6" stroke-linecap="butt"/>
<line x1="861.1" y1="897.57" x2="873.1" y2="897.57" stroke="#b22222" stroke-width="2.6" stroke-linecap="butt"/>
<circle cx="867.1" cy="895.07" r="5.2" fill="#b22222"/>
<line x1="898.17" y1="871.65" x2="898.17" y2="876.65" stroke="#b22222" stroke-width="2.2" stroke-linecap="butt"/>
<line x1="892.17" y1="871.65" x2="904.17" y2="871.65" stroke="#b22222" stroke-width="2.6" stroke-linecap="butt"/>
<line x1="892.17" y1="876.65" x2="904.17" y2="876.65" stroke="#b22222" stroke-width="2.6" stroke-linecap="butt"/>
<circle cx="898.17" cy="874.15" r="5.2" fill="#b22222"/>
<line x1="929.23" y1="842.47" x2="929.23" y2="848.47" stroke="#b22222" stroke-width="2.2" stroke-linecap="butt"/>
<line x1="923.23" y1="842.47" x2="935.23" y2="842.47" stroke="#b22222" stroke-width="2.6" stroke-linecap="butt"/>
<line x1="923.23" y1="848.47" x2="935.23" y2="848.47" stroke="#b22222" stroke-width="2.6" stroke-linecap="butt"/>
<circle cx="929.23" cy="845.47" r="5.2" fill="#b22222"/>
<line x1="960.3" y1="797.88" x2="960.3" y2="807.48" stroke="#b22222" stroke-width="2.2" stroke-linecap="butt"/>
<line x1="954.3" y1="797.88" x2="966.3" y2="797.88" stroke="#b22222" stroke-width="2.6" stroke-linecap="butt"/>
<line x1="954.3" y1="807.48" x2="966.3" y2="807.48" stroke="#b22222" stroke-width="2.6" stroke-linecap="butt"/>
<circle cx="960.3" cy="802.68" r="5.2" fill="#b22222"/>
<line x1="991.37" y1="716.89" x2="991.37" y2="723.89" stroke="#b22222" stroke-width="2.2" stroke-linecap="butt"/>
<line x1="985.37" y1="716.89" x2="997.37" y2="716.89" stroke="#b22222" stroke-width="2.6" stroke-linecap="butt"/>
<line x1="985.37" y1="723.89" x2="997.37" y2="723.89" stroke="#b22222" stroke-width="2.6" stroke-linecap="butt"/>
<circle cx="991.37" cy="720.39" r="5.2" fill="#b22222"/>
<line x1="1022.43" y1="684.43" x2="1022.43" y2="695.23" stroke="#b22222" stroke-width="2.2" stroke-linecap="butt"/>
<line x1="1016.43" y1="684.43" x2="1028.43" y2="684.43" stroke="#b22222" stroke-width="2.6" stroke-linecap="butt"/>
<line x1="1016.43" y1="695.23" x2="1028.43" y2="695.23" stroke="#b22222" stroke-width="2.6" stroke-linecap="butt"/>
<circle cx="1022.43" cy="689.83" r="5.2" fill="#b22222"/>
<line x1="1053.5" y1="675.38" x2="1053.5" y2="683.58" stroke="#b22222" stroke-width="2.2" stroke-linecap="butt"/>
<line x1="1047.5" y1="675.38" x2="1059.5" y2="675.38" stroke="#b22222" stroke-width="2.6" stroke-linecap="butt"/>
<line x1="1047.5" y1="683.58" x2="1059.5" y2="683.58" stroke="#b22222" stroke-width="2.6" stroke-linecap="butt"/>
<circle cx="1053.5" cy="679.48" r="5.2" fill="#b22222"/>
<line x1="680.7" y1="900.63" x2="680.7" y2="905.03" stroke="#483d8b" stroke-width="2.2" stroke-linecap="butt"/>
<line x1="674.7" y1="900.63" x2="686.7" y2="900.63" stroke="#483d8b" stroke-width="2.6" stroke-linecap="butt"/>
<line x1="674.7" y1="905.03" x2="686.7" y2="905.03" stroke="#483d8b" stroke-width="2.6" stroke-linecap="butt"/>
<circle cx="680.7" cy="902.83" r="5.2" fill="#483d8b"/>
<line x1="711.77" y1="899.69" x2="711.77" y2="904.09" stroke="#483d8b" stroke-width="2.2" stroke-linecap="butt"/>
<line x1="705.77" y1="899.69" x2="717.77" y2="899.69" stroke="#483d8b" stroke-width="2.6" stroke-linecap="butt"/>
<line x1="705.77" y1="904.09" x2="717.77" y2="904.09" stroke="#483d8b" stroke-width="2.6" stroke-linecap="butt"/>
<circle cx="711.77" cy="901.89" r="5.2" fill="#483d8b"/>
<line x1="742.84" y1="904.09" x2="742.84" y2="909.09" stroke="#483d8b" stroke-width="2.2" stroke-linecap="butt"/>
<line x1="736.84" y1="904.09" x2="748.84" y2="904.09" stroke="#483d8b" stroke-width="2.6" stroke-linecap="butt"/>
<line x1="736.84" y1="909.09" x2="748.84" y2="909.09" stroke="#483d8b" stroke-width="2.6" stroke-linecap="butt"/>
<circle cx="742.84" cy="906.59" r="5.2" fill="#483d8b"/>
<line x1="773.9" y1="900.86" x2="773.9" y2="905.26" stroke="#483d8b" stroke-width="2.2" stroke-linecap="butt"/>
<line x1="767.9" y1="900.86" x2="779.9" y2="900.86" stroke="#483d8b" stroke-width="2.6" stroke-linecap="butt"/>
<line x1="767.9" y1="905.26" x2="779.9" y2="905.26" stroke="#483d8b" stroke-width="2.6" stroke-linecap="butt"/>
<circle cx="773.9" cy="903.06" r="5.2" fill="#483d8b"/>
<line x1="804.97" y1="902.92" x2="804.97" y2="907.92" stroke="#483d8b" stroke-width="2.2" stroke-linecap="butt"/>
<line x1="798.97" y1="902.92" x2="810.97" y2="902.92" stroke="#483d8b" stroke-width="2.6" stroke-linecap="butt"/>
<line x1="798.97" y1="907.92" x2="810.97" y2="907.92" stroke="#483d8b" stroke-width="2.6" stroke-linecap="butt"/>
<circle cx="804.97" cy="905.42" r="5.2" fill="#483d8b"/>
<line x1="836.03" y1="898.45" x2="836.03" y2="903.45" stroke="#483d8b" stroke-width="2.2" stroke-linecap="butt"/>
<line x1="830.03" y1="898.45" x2="842.03" y2="898.45" stroke="#483d8b" stroke-width="2.6" stroke-linecap="butt"/>
<line x1="830.03" y1="903.45" x2="842.03" y2="903.45" stroke="#483d8b" stroke-width="2.6" stroke-linecap="butt"/>
<circle cx="836.03" cy="900.95" r="5.2" fill="#483d8b"/>
<line x1="867.1" y1="872.71" x2="867.1" y2="883.11" stroke="#483d8b" stroke-width="2.2" stroke-linecap="butt"/>
<line x1="861.1" y1="872.71" x2="873.1" y2="872.71" stroke="#483d8b" stroke-width="2.6" stroke-linecap="butt"/>
<line x1="861.1" y1="883.11" x2="873.1" y2="883.11" stroke="#483d8b" stroke-width="2.6" stroke-linecap="butt"/>
<circle cx="867.1" cy="877.91" r="5.2" fill="#483d8b"/>
<line x1="898.17" y1="840.23" x2="898.17" y2="859.63" stroke="#483d8b" stroke-width="2.2" stroke-linecap="butt"/>
<line x1="892.17" y1="840.23" x2="904.17" y2="840.23" stroke="#483d8b" stroke-width="2.6" stroke-linecap="butt"/>
<line x1="892.17" y1="859.63" x2="904.17" y2="859.63" stroke="#483d8b" stroke-width="2.6" stroke-linecap="butt"/>
<circle cx="898.17" cy="849.93" r="5.2" fill="#483d8b"/>
<line x1="929.23" y1="805.08" x2="929.23" y2="827.08" stroke="#483d8b" stroke-width="2.2" stroke-linecap="butt"/>
<line x1="923.23" y1="805.08" x2="935.23" y2="805.08" stroke="#483d8b" stroke-width="2.6" stroke-linecap="butt"/>
<line x1="923.23" y1="827.08" x2="935.23" y2="827.08" stroke="#483d8b" stroke-width="2.6" stroke-linecap="butt"/>
<circle cx="929.23" cy="816.08" r="5.2" fill="#483d8b"/>
<line x1="960.3" y1="704.12" x2="960.3" y2="735.72" stroke="#483d8b" stroke-width="2.2" stroke-linecap="butt"/>
<line x1="954.3" y1="704.12" x2="966.3" y2="704.12" stroke="#483d8b" stroke-width="2.6" stroke-linecap="butt"/>
<line x1="954.3" y1="735.72" x2="966.3" y2="735.72" stroke="#483d8b" stroke-width="2.6" stroke-linecap="butt"/>
<circle cx="960.3" cy="719.92" r="5.2" fill="#483d8b"/>
<line x1="991.37" y1="646.12" x2="991.37" y2="678.52" stroke="#483d8b" stroke-width="2.2" stroke-linecap="butt"/>
<line x1="985.37" y1="646.12" x2="997.37" y2="646.12" stroke="#483d8b" stroke-width="2.6" stroke-linecap="butt"/>
<line x1="985.37" y1="678.52" x2="997.37" y2="678.52" stroke="#483d8b" stroke-width="2.6" stroke-linecap="butt"/>
<circle cx="991.37" cy="662.32" r="5.2" fill="#483d8b"/>
<line x1="1022.43" y1="620.45" x2="1022.43" y2="648.25" stroke="#483d8b" stroke-width="2.2" stroke-linecap="butt"/>
<line x1="1016.43" y1="620.45" x2="1028.43" y2="620.45" stroke="#483d8b" stroke-width="2.6" stroke-linecap="butt"/>
<line x1="1016.43" y1="648.25" x2="1028.43" y2="648.25" stroke="#483d8b" stroke-width="2.6" stroke-linecap="butt"/>
<circle cx="1022.43" cy="634.35" r="5.2" fill="#483d8b"/>
<line x1="1053.5" y1="601.68" x2="1053.5" y2="631.28" stroke="#483d8b" stroke-width="2.2" stroke-linecap="butt"/>
<line x1="1047.5" y1="601.68" x2="1059.5" y2="601.68" stroke="#483d8b" stroke-width="2.6" stroke-linecap="butt"/>
<line x1="1047.5" y1="631.28" x2="1059.5" y2="631.28" stroke="#483d8b" stroke-width="2.6" stroke-linecap="butt"/>
<circle cx="1053.5" cy="616.48" r="5.2" fill="#483d8b"/>
<line x1="680.7" y1="898.28" x2="680.7" y2="902.68" stroke="#228b22" stroke-width="2.2" stroke-linecap="butt"/>
<line x1="674.7" y1="898.28" x2="686.7" y2="898.28" stroke="#228b22" stroke-width="2.6" stroke-linecap="butt"/>
<line x1="674.7" y1="902.68" x2="686.7" y2="902.68" stroke="#228b22" stroke-width="2.6" stroke-linecap="butt"/>
<circle cx="680.7" cy="900.48" r="5.2" fill="#228b22"/>
<line x1="711.77" y1="900.16" x2="711.77" y2="904.56" stroke="#228b22" stroke-width="2.2" stroke-linecap="butt"/>
<line x1="705.77" y1="900.16" x2="717.77" y2="900.16" stroke="#228b22" stroke-width="2.6" stroke-linecap="butt"/>
<line x1="705.77" y1="904.56" x2="717.77" y2="904.56" stroke="#228b22" stroke-width="2.6" stroke-linecap="butt"/>
<circle cx="711.77" cy="902.36" r="5.2" fill="#228b22"/>
<line x1="742.84" y1="897.74" x2="742.84" y2="902.74" stroke="#228b22" stroke-width="2.2" stroke-linecap="butt"/>
<line x1="736.84" y1="897.74" x2="748.84" y2="897.74" stroke="#228b22" stroke-width="2.6" stroke-linecap="butt"/>
<line x1="736.84" y1="902.74" x2="748.84" y2="902.74" stroke="#228b22" stroke-width="2.6" stroke-linecap="butt"/>
<circle cx="742.84" cy="900.24" r="5.2" fill="#228b22"/>
<line x1="773.9" y1="897.57" x2="773.9" y2="901.97" stroke="#228b22" stroke-width="2.2" stroke-linecap="butt"/>
<line x1="767.9" y1="897.57" x2="779.9" y2="897.57" stroke="#228b22" stroke-width="2.6" stroke-linecap="butt"/>
<line x1="767.9" y1="901.97" x2="779.9" y2="901.97" stroke="#228b22" stroke-width="2.6" stroke-linecap="butt"/>
<circle cx="773.9" cy="899.77" r="5.2" fill="#228b22"/>
<line x1="804.97" y1="902.21" x2="804.97" y2="907.21" stroke="#228b22" stroke-width="2.2" stroke-linecap="butt"/>
<line x1="798.97" y1="902.21" x2="810.97" y2="902.21" stroke="#228b22" stroke-width="2.6" stroke-linecap="butt"/>
<line x1="798.97" y1="907.21" x2="810.97" y2="907.21" stroke="#228b22" stroke-width="2.6" stroke-linecap="butt"/>
<circle cx="804.97" cy="904.71" r="5.2" fill="#228b22"/>
<line x1="836.03" y1="900.63" x2="836.03" y2="905.03" stroke="#228b22" stroke-width="2.2" stroke-linecap="butt"/>
<line x1="830.03" y1="900.63" x2="842.03" y2="900.63" stroke="#228b22" stroke-width="2.6" stroke-linecap="butt"/>
<line x1="830.03" y1="905.03" x2="842.03" y2="905.03" stroke="#228b22" stroke-width="2.6" stroke-linecap="butt"/>
<circle cx="836.03" cy="902.83" r="5.2" fill="#228b22"/>
<line x1="867.1" y1="889.92" x2="867.1" y2="895.52" stroke="#228b22" stroke-width="2.2" stroke-linecap="butt"/>
<line x1="861.1" y1="889.92" x2="873.1" y2="889.92" stroke="#228b22" stroke-width="2.6" stroke-linecap="butt"/>
<line x1="861.1" y1="895.52" x2="873.1" y2="895.52" stroke="#228b22" stroke-width="2.6" stroke-linecap="butt"/>
<circle cx="867.1" cy="892.72" r="5.2" fill="#228b22"/>
<line x1="898.17" y1="864.27" x2="898.17" y2="872.27" stroke="#228b22" stroke-width="2.2" stroke-linecap="butt"/>
<line x1="892.17" y1="864.27" x2="904.17" y2="864.27" stroke="#228b22" stroke-width="2.6" stroke-linecap="butt"/>
<line x1="892.17" y1="872.27" x2="904.17" y2="872.27" stroke="#228b22" stroke-width="2.6" stroke-linecap="butt"/>
<circle cx="898.17" cy="868.27" r="5.2" fill="#228b22"/>
<line x1="929.23" y1="804.31" x2="929.23" y2="817.51" stroke="#228b22" stroke-width="2.2" stroke-linecap="butt"/>
<line x1="923.23" y1="804.31" x2="935.23" y2="804.31" stroke="#228b22" stroke-width="2.6" stroke-linecap="butt"/>
<line x1="923.23" y1="817.51" x2="935.23" y2="817.51" stroke="#228b22" stroke-width="2.6" stroke-linecap="butt"/>
<circle cx="929.23" cy="810.91" r="5.2" fill="#228b22"/>
<line x1="960.3" y1="697.69" x2="960.3" y2="706.89" stroke="#228b22" stroke-width="2.2" stroke-linecap="butt"/>
<line x1="954.3" y1="697.69" x2="966.3" y2="697.69" stroke="#228b22" stroke-width="2.6" stroke-linecap="butt"/>
<line x1="954.3" y1="706.89" x2="966.3" y2="706.89" stroke="#228b22" stroke-width="2.6" stroke-linecap="butt"/>
<circle cx="960.3" cy="702.29" r="5.2" fill="#228b22"/>
<line x1="991.37" y1="612.45" x2="991.37" y2="622.85" stroke="#228b22" stroke-width="2.2" stroke-linecap="butt"/>
<line x1="985.37" y1="612.45" x2="997.37" y2="612.45" stroke="#228b22" stroke-width="2.6" stroke-linecap="butt"/>
<line x1="985.37" y1="622.85" x2="997.37" y2="622.85" stroke="#228b22" stroke-width="2.6" stroke-linecap="butt"/>
<circle cx="991.37" cy="617.65" r="5.2" fill="#228b22"/>
<line x1="1022.43" y1="585.76" x2="1022.43" y2="597.36" stroke="#228b22" stroke-width="2.2" stroke-linecap="butt"/>
<line x1="1016.43" y1="585.76" x2="1028.43" y2="585.76" stroke="#228b22" stroke-width="2.6" stroke-linecap="butt"/>
<line x1="1016.43" y1="597.36" x2="1028.43" y2="597.36" stroke="#228b22" stroke-width="2.6" stroke-linecap="butt"/>
<circle cx="1022.43" cy="591.56" r="5.2" fill="#228b22"/>
<line x1="1053.5" y1="624.78" x2="1053.5" y2="636.38" stroke="#228b22" stroke-width="2.2" stroke-linecap="butt"/>
<line x1="1047.5" y1="624.78" x2="1059.5" y2="624.78" stroke="#228b22" stroke-width="2.6" stroke-linecap="butt"/>
<line x1="1047.5" y1="636.38" x2="1059.5" y2="636.38" stroke="#228b22" stroke-width="2.6" stroke-linecap="butt"/>
<circle cx="1053.5" cy="630.58" r="5.2" fill="#228b22"/>
<line x1="680.7" y1="901.1" x2="680.7" y2="905.5" stroke="#ffa500" stroke-width="2.2" stroke-linecap="butt"/>
<line x1="674.7" y1="901.1" x2="686.7" y2="901.1" stroke="#ffa500" stroke-width="2.6" stroke-linecap="butt"/>
<line x1="674.7" y1="905.5" x2="686.7" y2="905.5" stroke="#ffa500" stroke-width="2.6" stroke-linecap="butt"/>
<circle cx="680.7" cy="903.3" r="5.2" fill="#ffa500"/>
<line x1="711.77" y1="901.1" x2="711.77" y2="905.5" stroke="#ffa500" stroke-width="2.2" stroke-linecap="butt"/>
<line x1="705.77" y1="901.1" x2="717.77" y2="901.1" stroke="#ffa500" stroke-width="2.6" stroke-linecap="butt"/>
<line x1="705.77" y1="905.5" x2="717.77" y2="905.5" stroke="#ffa500" stroke-width="2.6" stroke-linecap="butt"/>
<circle cx="711.77" cy="903.3" r="5.2" fill="#ffa500"/>
<line x1="742.84" y1="898.92" x2="742.84" y2="903.92" stroke="#ffa500" stroke-width="2.2" stroke-linecap="butt"/>
<line x1="736.84" y1="898.92" x2="748.84" y2="898.92" stroke="#ffa500" stroke-width="2.6" stroke-linecap="butt"/>
<line x1="736.84" y1="903.92" x2="748.84" y2="903.92" stroke="#ffa500" stroke-width="2.6" stroke-linecap="butt"/>
<circle cx="742.84" cy="901.42" r="5.2" fill="#ffa500"/>
<line x1="773.9" y1="900.63" x2="773.9" y2="905.03" stroke="#ffa500" stroke-width="2.2" stroke-linecap="butt"/>
<line x1="767.9" y1="900.63" x2="779.9" y2="900.63" stroke="#ffa500" stroke-width="2.6" stroke-linecap="butt"/>
<line x1="767.9" y1="905.03" x2="779.9" y2="905.03" stroke="#ffa500" stroke-width="2.6" stroke-linecap="butt"/>
<circle cx="773.9" cy="902.83" r="5.2" fill="#ffa500"/>
<line x1="804.97" y1="898.21" x2="804.97" y2="903.21" stroke="#ffa500" stroke-width="2.2" stroke-linecap="butt"/>
<line x1="798.97" y1="898.21" x2="810.97" y2="898.21" stroke="#ffa500" stroke-width="2.6" stroke-linecap="butt"/>
<line x1="798.97" y1="903.21" x2="810.97" y2="903.21" stroke="#ffa500" stroke-width="2.6" stroke-linecap="butt"/>
<circle cx="804.97" cy="900.71" r="5.2" fill="#ffa500"/>
<line x1="836.03" y1="900.7" x2="836.03" y2="905.9" stroke="#ffa500" stroke-width="2.2" stroke-linecap="butt"/>
<line x1="830.03" y1="900.7" x2="842.03" y2="900.7" stroke="#ffa500" stroke-width="2.6" stroke-linecap="butt"/>
<line x1="830.03" y1="905.9" x2="842.03" y2="905.9" stroke="#ffa500" stroke-width="2.6" stroke-linecap="butt"/>
<circle cx="836.03" cy="903.3" r="5.2" fill="#ffa500"/>
<line x1="867.1" y1="893.95" x2="867.1" y2="899.95" stroke="#ffa500" stroke-width="2.2" stroke-linecap="butt"/>
<line x1="861.1" y1="893.95" x2="873.1" y2="893.95" stroke="#ffa500" stroke-width="2.6" stroke-linecap="butt"/>
<line x1="861.1" y1="899.95" x2="873.1" y2="899.95" stroke="#ffa500" stroke-width="2.6" stroke-linecap="butt"/>
<circle cx="867.1" cy="896.95" r="5.2" fill="#ffa500"/>
<line x1="898.17" y1="877.59" x2="898.17" y2="889.99" stroke="#ffa500" stroke-width="2.2" stroke-linecap="butt"/>
<line x1="892.17" y1="877.59" x2="904.17" y2="877.59" stroke="#ffa500" stroke-width="2.6" stroke-linecap="butt"/>
<line x1="892.17" y1="889.99" x2="904.17" y2="889.99" stroke="#ffa500" stroke-width="2.6" stroke-linecap="butt"/>
<circle cx="898.17" cy="883.79" r="5.2" fill="#ffa500"/>
<line x1="929.23" y1="780.22" x2="929.23" y2="801.62" stroke="#ffa500" stroke-width="2.2" stroke-linecap="butt"/>
<line x1="923.23" y1="780.22" x2="935.23" y2="780.22" stroke="#ffa500" stroke-width="2.6" stroke-linecap="butt"/>
<line x1="923.23" y1="801.62" x2="935.23" y2="801.62" stroke="#ffa500" stroke-width="2.6" stroke-linecap="butt"/>
<circle cx="929.23" cy="790.92" r="5.2" fill="#ffa500"/>
<line x1="960.3" y1="666.47" x2="960.3" y2="680.27" stroke="#ffa500" stroke-width="2.2" stroke-linecap="butt"/>
<line x1="954.3" y1="666.47" x2="966.3" y2="666.47" stroke="#ffa500" stroke-width="2.6" stroke-linecap="butt"/>
<line x1="954.3" y1="680.27" x2="966.3" y2="680.27" stroke="#ffa500" stroke-width="2.6" stroke-linecap="butt"/>
<circle cx="960.3" cy="673.37" r="5.2" fill="#ffa500"/>
<line x1="991.37" y1="624.78" x2="991.37" y2="636.38" stroke="#ffa500" stroke-width="2.2" stroke-linecap="butt"/>
<line x1="985.37" y1="624.78" x2="997.37" y2="624.78" stroke="#ffa500" stroke-width="2.6" stroke-linecap="butt"/>
<line x1="985.37" y1="636.38" x2="997.37" y2="636.38" stroke="#ffa500" stroke-width="2.6" stroke-linecap="butt"/>
<circle cx="991.37" cy="630.58" r="5.2" fill="#ffa500"/>
<line x1="1022.43" y1="613.77" x2="1022.43" y2="627.17" stroke="#ffa500" stroke-width="2.2" stroke-linecap="butt"/>
<line x1="1016.43" y1="613.77" x2="1028.43" y2="613.77" stroke="#ffa500" stroke-width="2.6" stroke-linecap="butt"/>
<line x1="1016.43" y1="627.17" x2="1028.43" y2="627.17" stroke="#ffa500" stroke-width="2.6" stroke-linecap="butt"/>
<circle cx="1022.43" cy="620.47" r="5.2" fill="#ffa500"/>
<line x1="1053.5" y1="606.8" x2="1053.5" y2="623.8" stroke="#ffa500" stroke-width="2.2" stroke-linecap="butt"/>
<line x1="1047.5" y1="606.8" x2="1059.5" y2="606.8" stroke="#ffa500" stroke-width="2.6" stroke-linecap="butt"/>
<line x1="1047.5" y1="623.8" x2="1059.5" y2="623.8" stroke="#ffa500" stroke-width="2.6" stroke-linecap="butt"/>
<circle cx="1053.5" cy="615.3" r="5.2" fill="#ffa500"/>
<line x1="1118.6" y1="604.2" x2="1159.8" y2="604.2" stroke="#ffa500" stroke-width="2.8" stroke-linecap="butt"/>
<circle cx="1139.2" cy="604.2" r="5.2" fill="#ffa500"/>
<g transform="translate(1168.74,614.2) scale(1,1.035)"><text x="0" y="0" font-size="29.4" fill="#000" font-weight="normal" font-style="normal">T20P 4-U</text><path d="M763 0H583V1102C540 1063 483 1023 413 984C343 945 280 915 223 895V1062C323 1107 411 1162 486 1226C561 1291 614 1353 645 1415H763Z" fill="#000" transform="translate(70.27,0) scale(0.01436,-0.01436)"/></g>
<g transform="translate(1126.94,653.4) scale(1,1.035)"><text x="0" y="0" font-size="27.8" fill="#000" font-weight="normal" font-style="italic">K</text></g>
<g transform="translate(1144.85,657.4) scale(1,1.035)"><text x="0" y="0" font-size="16.5" fill="#000" font-weight="normal" font-style="normal">D</text></g>
<g transform="translate(1164.56,653.4) scale(1,1.035)"><text x="0" y="0" font-size="27.5" fill="#000" font-weight="normal" font-style="normal">= 589.6 nM</text></g>
<line x1="1118.6" y1="708.6" x2="1159.8" y2="708.6" stroke="#228b22" stroke-width="2.8" stroke-linecap="butt"/>
<circle cx="1139.2" cy="708.6" r="5.2" fill="#228b22"/>
<g transform="translate(1168.74,718.6) scale(1,1.035)"><text x="0" y="0" font-size="29.4" fill="#000" font-weight="normal" font-style="normal">T20P 4-S</text><path d="M763 0H583V1102C540 1063 483 1023 413 984C343 945 280 915 223 895V1062C323 1107 411 1162 486 1226C561 1291 614 1353 645 1415H763Z" fill="#000" transform="translate(70.27,0) scale(0.01436,-0.01436)"/></g>
<g transform="translate(1126.94,757.7) scale(1,1.035)"><text x="0" y="0" font-size="27.8" fill="#000" font-weight="normal" font-style="italic">K</text></g>
<g transform="translate(1144.85,761.7) scale(1,1.035)"><text x="0" y="0" font-size="16.5" fill="#000" font-weight="normal" font-style="normal">D</text></g>
<g transform="translate(1164.56,757.7) scale(1,1.035)"><text x="0" y="0" font-size="27.5" fill="#000" font-weight="normal" font-style="normal">= 695.9 nM</text></g>
<line x1="1118.6" y1="817.2" x2="1159.8" y2="817.2" stroke="#483d8b" stroke-width="2.8" stroke-linecap="butt"/>
<circle cx="1139.2" cy="817.2" r="5.2" fill="#483d8b"/>
<g transform="translate(1168.74,827.2) scale(1,1.035)"><text x="0" y="0" font-size="29.4" fill="#000" font-weight="normal" font-style="normal">T20P 4-G</text><path d="M763 0H583V1102C540 1063 483 1023 413 984C343 945 280 915 223 895V1062C323 1107 411 1162 486 1226C561 1291 614 1353 645 1415H763Z" fill="#000" transform="translate(70.27,0) scale(0.01436,-0.01436)"/></g>
<g transform="translate(1126.94,864.2) scale(1,1.035)"><text x="0" y="0" font-size="27.8" fill="#000" font-weight="normal" font-style="italic">K</text></g>
<g transform="translate(1144.85,868.2) scale(1,1.035)"><text x="0" y="0" font-size="16.5" fill="#000" font-weight="normal" font-style="normal">D</text></g>
<g transform="translate(1164.56,864.2) scale(1,1.035)"><text x="0" y="0" font-size="27.5" fill="#000" font-weight="normal" font-style="normal">= 765.4 nM</text></g>
<line x1="1118.6" y1="923.2" x2="1159.8" y2="923.2" stroke="#b22222" stroke-width="2.8" stroke-linecap="butt"/>
<circle cx="1139.2" cy="923.2" r="5.2" fill="#b22222"/>
<g transform="translate(1168.74,933.4) scale(1,1.035)"><text x="0" y="0" font-size="29.4" fill="#000" font-weight="normal" font-style="normal">T20P 4-B</text><path d="M763 0H583V1102C540 1063 483 1023 413 984C343 945 280 915 223 895V1062C323 1107 411 1162 486 1226C561 1291 614 1353 645 1415H763Z" fill="#000" transform="translate(70.27,0) scale(0.01436,-0.01436)"/></g>
<g transform="translate(1126.94,970.4) scale(1,1.035)"><text x="0" y="0" font-size="27.8" fill="#000" font-weight="normal" font-style="italic">K</text></g>
<g transform="translate(1144.85,974.4) scale(1,1.035)"><text x="0" y="0" font-size="16.5" fill="#000" font-weight="normal" font-style="normal">D</text></g>
<g transform="translate(1164.56,970.4) scale(1,1.035)"><text x="0" y="0" font-size="27.5" fill="#000" font-weight="normal" font-style="normal">=  060 nM</text><path d="M763 0H583V1102C540 1063 483 1023 413 984C343 945 280 915 223 895V1062C323 1107 411 1162 486 1226C561 1291 614 1353 645 1415H763Z" fill="#000" transform="translate(23.7,0) scale(0.01343,-0.01343)"/></g>
<path d="M1312.5 646 Q1320.5 645.5 1320.5 653 L1320.5 740.2 Q1320.5 747.7 1312.5 747.2" fill="none" stroke="#000" stroke-width="2.2"/>
<path d="M1312.5 853 Q1320.5 852.5 1320.5 860 L1320.5 947.5 Q1320.5 955 1312.5 954.5" fill="none" stroke="#000" stroke-width="2.2"/>
<g transform="translate(1330.2,696) rotate(90)"><text x="-68.6" y="0" font-size="28.2" font-style="italic" transform="scale(1,1.035)">P</text><g transform="translate(-49.79,0) scale(1,1.035)"><text x="0" y="0" font-size="28.2" fill="#000"> = 0.0 30</text><path d="M763 0H583V1102C540 1063 483 1023 413 984C343 945 280 915 223 895V1062C323 1107 411 1162 486 1226C561 1291 614 1353 645 1415H763Z" fill="#000" transform="translate(71.34,0) scale(0.01377,-0.01377)"/></g></g>
<g transform="translate(1330.2,903) rotate(90)"><text x="-68.6" y="0" font-size="28.2" font-style="italic" transform="scale(1,1.035)">P</text><g transform="translate(-49.79,0) scale(1,1.035)"><text x="0" y="0" font-size="28.2" fill="#000"> = 0.00 2</text><path d="M763 0H583V1102C540 1063 483 1023 413 984C343 945 280 915 223 895V1062C323 1107 411 1162 486 1226C561 1291 614 1353 645 1415H763Z" fill="#000" transform="translate(87.02,0) scale(0.01377,-0.01377)"/></g></g>
</svg>
</body></html>
